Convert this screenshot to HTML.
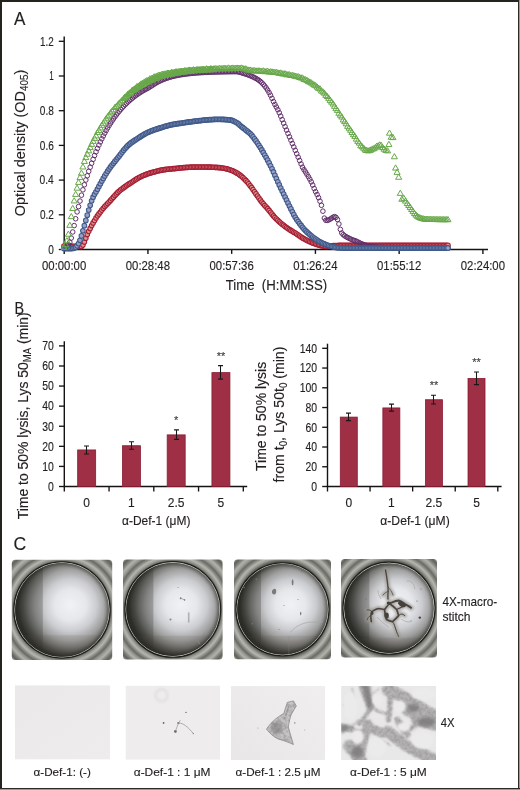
<!DOCTYPE html><html><head><meta charset="utf-8"><style>html,body{margin:0;padding:0;background:#fff}svg{display:block;will-change:transform}text{stroke:#231f20;stroke-width:0.14px}</style></head><body>
<svg width="520" height="790" viewBox="0 0 520 790" font-family="'Liberation Sans', sans-serif" fill="#231f20">
<rect x="0" y="0" width="520" height="790" fill="#fff"/>
<text x="14.0" y="24.8" font-size="17.5" text-anchor="start" textLength="11.4" lengthAdjust="spacingAndGlyphs" >A</text>
<g stroke="#151313" stroke-width="1.3" fill="none">
<path d="M64.2 36.5V249.5" stroke-width="1.45"/><path d="M63.5 249.5H488"/>
<path d="M58.8 249.50H64.2"/>
<path d="M58.8 214.80H64.2"/>
<path d="M58.8 180.10H64.2"/>
<path d="M58.8 145.40H64.2"/>
<path d="M58.8 110.70H64.2"/>
<path d="M58.8 76.00H64.2"/>
<path d="M58.8 41.30H64.2"/>
<path d="M64.20 249.5V253.9" stroke-width="1.4"/>
<path d="M147.94 249.5V253.9" stroke-width="1.4"/>
<path d="M231.68 249.5V253.9" stroke-width="1.4"/>
<path d="M315.42 249.5V253.9" stroke-width="1.4"/>
<path d="M399.16 249.5V253.9" stroke-width="1.4"/>
<path d="M482.90 249.5V253.9" stroke-width="1.4"/>
</g>
<text x="53.8" y="253.80" font-size="12" text-anchor="end" textLength="5.6" lengthAdjust="spacingAndGlyphs" >0</text>
<text x="53.8" y="219.10" font-size="12" text-anchor="end" textLength="13.9" lengthAdjust="spacingAndGlyphs" >0.2</text>
<text x="53.8" y="184.40" font-size="12" text-anchor="end" textLength="14.2" lengthAdjust="spacingAndGlyphs" >0.4</text>
<text x="53.8" y="149.70" font-size="12" text-anchor="end" textLength="14.0" lengthAdjust="spacingAndGlyphs" >0.6</text>
<text x="53.8" y="115.00" font-size="12" text-anchor="end" textLength="14.0" lengthAdjust="spacingAndGlyphs" >0.8</text>
<text x="53.8" y="80.30" font-size="12" text-anchor="end" textLength="4.5" lengthAdjust="spacingAndGlyphs" >1</text>
<text x="53.8" y="45.60" font-size="12" text-anchor="end" textLength="13.7" lengthAdjust="spacingAndGlyphs" >1.2</text>
<text x="64.10" y="269.9" font-size="12" text-anchor="middle" textLength="44.2" lengthAdjust="spacingAndGlyphs" >00:00:00</text>
<text x="147.86" y="269.9" font-size="12" text-anchor="middle" textLength="44.2" lengthAdjust="spacingAndGlyphs" >00:28:48</text>
<text x="231.62" y="269.9" font-size="12" text-anchor="middle" textLength="44.2" lengthAdjust="spacingAndGlyphs" >00:57:36</text>
<text x="315.38" y="269.9" font-size="12" text-anchor="middle" textLength="44.2" lengthAdjust="spacingAndGlyphs" >01:26:24</text>
<text x="399.14" y="269.9" font-size="12" text-anchor="middle" textLength="44.2" lengthAdjust="spacingAndGlyphs" >01:55:12</text>
<text x="482.90" y="269.9" font-size="12" text-anchor="middle" textLength="44.2" lengthAdjust="spacingAndGlyphs" >02:24:00</text>
<text x="276.4" y="290.2" font-size="14.2" text-anchor="middle" textLength="101.5" lengthAdjust="spacingAndGlyphs" xml:space="preserve">Time  (H:MM:SS)</text>
<text transform="translate(24.6 143.0) rotate(-90)" font-size="14.6" text-anchor="middle" textLength="146.5" lengthAdjust="spacingAndGlyphs">Optical density (OD<tspan font-size="10" dy="3">405</tspan><tspan dy="-3">)</tspan></text>
<g fill="#d9998c" stroke="#a61d35" stroke-width="1.05"><circle cx="64.00" cy="246.00" r="2.3"/><circle cx="65.45" cy="246.05" r="2.3"/><circle cx="66.91" cy="246.10" r="2.3"/><circle cx="68.36" cy="246.15" r="2.3"/><circle cx="69.82" cy="246.19" r="2.3"/><circle cx="71.27" cy="246.24" r="2.3"/><circle cx="72.73" cy="246.28" r="2.3"/><circle cx="74.18" cy="246.32" r="2.3"/><circle cx="75.64" cy="246.36" r="2.3"/><circle cx="77.09" cy="246.43" r="2.3"/><circle cx="78.55" cy="246.54" r="2.3"/><circle cx="80.00" cy="246.60" r="2.3"/><circle cx="81.45" cy="246.38" r="2.3"/><circle cx="82.91" cy="244.97" r="2.3"/><circle cx="84.36" cy="241.95" r="2.3"/><circle cx="85.82" cy="238.14" r="2.3"/><circle cx="87.27" cy="234.57" r="2.3"/><circle cx="88.73" cy="231.37" r="2.3"/><circle cx="90.18" cy="228.41" r="2.3"/><circle cx="91.64" cy="225.58" r="2.3"/><circle cx="93.09" cy="222.91" r="2.3"/><circle cx="94.54" cy="220.46" r="2.3"/><circle cx="96.00" cy="218.04" r="2.3"/><circle cx="97.45" cy="215.86" r="2.3"/><circle cx="98.91" cy="213.89" r="2.3"/><circle cx="100.36" cy="211.98" r="2.3"/><circle cx="101.82" cy="210.11" r="2.3"/><circle cx="103.27" cy="208.27" r="2.3"/><circle cx="104.73" cy="206.58" r="2.3"/><circle cx="106.18" cy="204.99" r="2.3"/><circle cx="107.64" cy="203.49" r="2.3"/><circle cx="109.09" cy="201.98" r="2.3"/><circle cx="110.54" cy="200.44" r="2.3"/><circle cx="112.00" cy="198.81" r="2.3"/><circle cx="113.45" cy="197.19" r="2.3"/><circle cx="114.91" cy="195.55" r="2.3"/><circle cx="116.36" cy="193.94" r="2.3"/><circle cx="117.82" cy="192.42" r="2.3"/><circle cx="119.27" cy="191.06" r="2.3"/><circle cx="120.73" cy="189.85" r="2.3"/><circle cx="122.18" cy="188.74" r="2.3"/><circle cx="123.64" cy="187.68" r="2.3"/><circle cx="125.09" cy="186.64" r="2.3"/><circle cx="126.54" cy="185.61" r="2.3"/><circle cx="128.00" cy="184.62" r="2.3"/><circle cx="129.45" cy="183.66" r="2.3"/><circle cx="130.91" cy="182.71" r="2.3"/><circle cx="132.36" cy="181.74" r="2.3"/><circle cx="133.82" cy="180.78" r="2.3"/><circle cx="135.27" cy="179.82" r="2.3"/><circle cx="136.73" cy="178.90" r="2.3"/><circle cx="138.18" cy="178.03" r="2.3"/><circle cx="139.63" cy="177.22" r="2.3"/><circle cx="141.09" cy="176.49" r="2.3"/><circle cx="142.54" cy="175.84" r="2.3"/><circle cx="144.00" cy="175.23" r="2.3"/><circle cx="145.45" cy="174.66" r="2.3"/><circle cx="146.91" cy="174.12" r="2.3"/><circle cx="148.36" cy="173.62" r="2.3"/><circle cx="149.82" cy="173.14" r="2.3"/><circle cx="151.27" cy="172.69" r="2.3"/><circle cx="152.73" cy="172.28" r="2.3"/><circle cx="154.18" cy="171.88" r="2.3"/><circle cx="155.63" cy="171.49" r="2.3"/><circle cx="157.09" cy="171.12" r="2.3"/><circle cx="158.54" cy="170.77" r="2.3"/><circle cx="160.00" cy="170.44" r="2.3"/><circle cx="161.45" cy="170.14" r="2.3"/><circle cx="162.91" cy="169.87" r="2.3"/><circle cx="164.36" cy="169.63" r="2.3"/><circle cx="165.82" cy="169.44" r="2.3"/><circle cx="167.27" cy="169.26" r="2.3"/><circle cx="168.72" cy="169.10" r="2.3"/><circle cx="170.18" cy="168.96" r="2.3"/><circle cx="171.63" cy="168.82" r="2.3"/><circle cx="173.09" cy="168.69" r="2.3"/><circle cx="174.54" cy="168.56" r="2.3"/><circle cx="176.00" cy="168.42" r="2.3"/><circle cx="177.45" cy="168.27" r="2.3"/><circle cx="178.91" cy="168.11" r="2.3"/><circle cx="180.36" cy="167.94" r="2.3"/><circle cx="181.82" cy="167.78" r="2.3"/><circle cx="183.27" cy="167.63" r="2.3"/><circle cx="184.72" cy="167.49" r="2.3"/><circle cx="186.18" cy="167.38" r="2.3"/><circle cx="187.63" cy="167.30" r="2.3"/><circle cx="189.09" cy="167.25" r="2.3"/><circle cx="190.54" cy="167.19" r="2.3"/><circle cx="192.00" cy="167.14" r="2.3"/><circle cx="193.45" cy="167.10" r="2.3"/><circle cx="194.91" cy="167.06" r="2.3"/><circle cx="196.36" cy="167.03" r="2.3"/><circle cx="197.82" cy="167.01" r="2.3"/><circle cx="199.27" cy="167.00" r="2.3"/><circle cx="200.72" cy="167.00" r="2.3"/><circle cx="202.18" cy="167.01" r="2.3"/><circle cx="203.63" cy="167.02" r="2.3"/><circle cx="205.09" cy="167.04" r="2.3"/><circle cx="206.54" cy="167.07" r="2.3"/><circle cx="208.00" cy="167.10" r="2.3"/><circle cx="209.45" cy="167.13" r="2.3"/><circle cx="210.91" cy="167.17" r="2.3"/><circle cx="212.36" cy="167.21" r="2.3"/><circle cx="213.81" cy="167.26" r="2.3"/><circle cx="215.27" cy="167.33" r="2.3"/><circle cx="216.72" cy="167.42" r="2.3"/><circle cx="218.18" cy="167.53" r="2.3"/><circle cx="219.63" cy="167.65" r="2.3"/><circle cx="221.09" cy="167.79" r="2.3"/><circle cx="222.54" cy="167.97" r="2.3"/><circle cx="224.00" cy="168.22" r="2.3"/><circle cx="225.45" cy="168.53" r="2.3"/><circle cx="226.91" cy="168.88" r="2.3"/><circle cx="228.36" cy="169.28" r="2.3"/><circle cx="229.81" cy="169.71" r="2.3"/><circle cx="231.27" cy="170.25" r="2.3"/><circle cx="232.72" cy="170.86" r="2.3"/><circle cx="234.18" cy="171.56" r="2.3"/><circle cx="235.63" cy="172.32" r="2.3"/><circle cx="237.09" cy="173.14" r="2.3"/><circle cx="238.54" cy="174.09" r="2.3"/><circle cx="240.00" cy="175.16" r="2.3"/><circle cx="241.45" cy="176.34" r="2.3"/><circle cx="242.91" cy="177.61" r="2.3"/><circle cx="244.36" cy="178.95" r="2.3"/><circle cx="245.81" cy="180.44" r="2.3"/><circle cx="247.27" cy="182.09" r="2.3"/><circle cx="248.72" cy="183.86" r="2.3"/><circle cx="250.18" cy="185.70" r="2.3"/><circle cx="251.63" cy="187.60" r="2.3"/><circle cx="253.09" cy="189.64" r="2.3"/><circle cx="254.54" cy="191.77" r="2.3"/><circle cx="256.00" cy="193.88" r="2.3"/><circle cx="257.45" cy="195.96" r="2.3"/><circle cx="258.90" cy="198.06" r="2.3"/><circle cx="260.36" cy="200.13" r="2.3"/><circle cx="261.81" cy="202.08" r="2.3"/><circle cx="263.27" cy="203.86" r="2.3"/><circle cx="264.72" cy="205.48" r="2.3"/><circle cx="266.18" cy="207.05" r="2.3"/><circle cx="267.63" cy="208.66" r="2.3"/><circle cx="269.09" cy="210.41" r="2.3"/><circle cx="270.54" cy="212.28" r="2.3"/><circle cx="272.00" cy="214.15" r="2.3"/><circle cx="273.45" cy="215.91" r="2.3"/><circle cx="274.90" cy="217.49" r="2.3"/><circle cx="276.36" cy="218.97" r="2.3"/><circle cx="277.81" cy="220.37" r="2.3"/><circle cx="279.27" cy="221.70" r="2.3"/><circle cx="280.72" cy="222.98" r="2.3"/><circle cx="282.18" cy="224.20" r="2.3"/><circle cx="283.63" cy="225.36" r="2.3"/><circle cx="285.09" cy="226.47" r="2.3"/><circle cx="286.54" cy="227.52" r="2.3"/><circle cx="288.00" cy="228.51" r="2.3"/><circle cx="289.45" cy="229.47" r="2.3"/><circle cx="290.90" cy="230.41" r="2.3"/><circle cx="292.36" cy="231.33" r="2.3"/><circle cx="293.81" cy="232.23" r="2.3"/><circle cx="295.27" cy="233.12" r="2.3"/><circle cx="296.72" cy="234.02" r="2.3"/><circle cx="298.18" cy="234.98" r="2.3"/><circle cx="299.63" cy="235.99" r="2.3"/><circle cx="301.09" cy="236.99" r="2.3"/><circle cx="302.54" cy="237.93" r="2.3"/><circle cx="303.99" cy="238.77" r="2.3"/><circle cx="305.45" cy="239.57" r="2.3"/><circle cx="306.90" cy="240.32" r="2.3"/><circle cx="308.36" cy="241.02" r="2.3"/><circle cx="309.81" cy="241.67" r="2.3"/><circle cx="311.27" cy="242.30" r="2.3"/><circle cx="312.72" cy="242.92" r="2.3"/><circle cx="314.18" cy="243.51" r="2.3"/><circle cx="315.63" cy="244.05" r="2.3"/><circle cx="317.09" cy="244.53" r="2.3"/><circle cx="318.54" cy="244.94" r="2.3"/><circle cx="319.99" cy="245.30" r="2.3"/><circle cx="321.45" cy="245.66" r="2.3"/><circle cx="322.90" cy="245.99" r="2.3"/><circle cx="324.36" cy="246.24" r="2.3"/><circle cx="325.81" cy="246.38" r="2.3"/><circle cx="327.27" cy="246.38" r="2.3"/><circle cx="328.72" cy="246.24" r="2.3"/><circle cx="330.18" cy="246.04" r="2.3"/><circle cx="331.63" cy="245.83" r="2.3"/><circle cx="333.09" cy="245.69" r="2.3"/><circle cx="334.54" cy="245.61" r="2.3"/><circle cx="335.99" cy="245.52" r="2.3"/><circle cx="337.45" cy="245.45" r="2.3"/><circle cx="338.90" cy="245.41" r="2.3"/><circle cx="340.36" cy="245.40" r="2.3"/><circle cx="341.81" cy="245.40" r="2.3"/><circle cx="343.27" cy="245.40" r="2.3"/><circle cx="344.72" cy="245.40" r="2.3"/><circle cx="346.18" cy="245.40" r="2.3"/><circle cx="347.63" cy="245.40" r="2.3"/><circle cx="349.08" cy="245.40" r="2.3"/><circle cx="350.54" cy="245.40" r="2.3"/><circle cx="351.99" cy="245.40" r="2.3"/><circle cx="353.45" cy="245.40" r="2.3"/><circle cx="354.90" cy="245.40" r="2.3"/><circle cx="356.36" cy="245.40" r="2.3"/><circle cx="357.81" cy="245.40" r="2.3"/><circle cx="359.27" cy="245.40" r="2.3"/><circle cx="360.72" cy="245.40" r="2.3"/><circle cx="362.18" cy="245.40" r="2.3"/><circle cx="363.63" cy="245.40" r="2.3"/><circle cx="365.08" cy="245.40" r="2.3"/><circle cx="366.54" cy="245.40" r="2.3"/><circle cx="367.99" cy="245.40" r="2.3"/><circle cx="369.45" cy="245.40" r="2.3"/><circle cx="370.90" cy="245.40" r="2.3"/><circle cx="372.36" cy="245.40" r="2.3"/><circle cx="373.81" cy="245.40" r="2.3"/><circle cx="375.27" cy="245.40" r="2.3"/><circle cx="376.72" cy="245.40" r="2.3"/><circle cx="378.18" cy="245.40" r="2.3"/><circle cx="379.63" cy="245.40" r="2.3"/><circle cx="381.08" cy="245.40" r="2.3"/><circle cx="382.54" cy="245.40" r="2.3"/><circle cx="383.99" cy="245.40" r="2.3"/><circle cx="385.45" cy="245.40" r="2.3"/><circle cx="386.90" cy="245.40" r="2.3"/><circle cx="388.36" cy="245.40" r="2.3"/><circle cx="389.81" cy="245.40" r="2.3"/><circle cx="391.27" cy="245.40" r="2.3"/><circle cx="392.72" cy="245.40" r="2.3"/><circle cx="394.17" cy="245.40" r="2.3"/><circle cx="395.63" cy="245.40" r="2.3"/><circle cx="397.08" cy="245.40" r="2.3"/><circle cx="398.54" cy="245.40" r="2.3"/><circle cx="399.99" cy="245.40" r="2.3"/><circle cx="401.45" cy="245.40" r="2.3"/><circle cx="402.90" cy="245.40" r="2.3"/><circle cx="404.36" cy="245.40" r="2.3"/><circle cx="405.81" cy="245.40" r="2.3"/><circle cx="407.27" cy="245.40" r="2.3"/><circle cx="408.72" cy="245.40" r="2.3"/><circle cx="410.17" cy="245.40" r="2.3"/><circle cx="411.63" cy="245.40" r="2.3"/><circle cx="413.08" cy="245.40" r="2.3"/><circle cx="414.54" cy="245.40" r="2.3"/><circle cx="415.99" cy="245.40" r="2.3"/><circle cx="417.45" cy="245.40" r="2.3"/><circle cx="418.90" cy="245.40" r="2.3"/><circle cx="420.36" cy="245.40" r="2.3"/><circle cx="421.81" cy="245.40" r="2.3"/><circle cx="423.26" cy="245.40" r="2.3"/><circle cx="424.72" cy="245.40" r="2.3"/><circle cx="426.17" cy="245.40" r="2.3"/><circle cx="427.63" cy="245.40" r="2.3"/><circle cx="429.08" cy="245.40" r="2.3"/><circle cx="430.54" cy="245.40" r="2.3"/><circle cx="431.99" cy="245.40" r="2.3"/><circle cx="433.45" cy="245.40" r="2.3"/><circle cx="434.90" cy="245.40" r="2.3"/><circle cx="436.36" cy="245.40" r="2.3"/><circle cx="437.81" cy="245.40" r="2.3"/><circle cx="439.26" cy="245.40" r="2.3"/><circle cx="440.72" cy="245.40" r="2.3"/><circle cx="442.17" cy="245.40" r="2.3"/><circle cx="443.63" cy="245.40" r="2.3"/><circle cx="445.08" cy="245.40" r="2.3"/><circle cx="446.54" cy="245.40" r="2.3"/><circle cx="447.99" cy="245.40" r="2.3"/></g>
<g fill="none" stroke="#62306a" stroke-width="1.0"><circle cx="64.00" cy="248.20" r="2.3"/><circle cx="65.45" cy="247.54" r="2.3"/><circle cx="66.91" cy="246.48" r="2.3"/><circle cx="68.36" cy="244.83" r="2.3"/><circle cx="69.82" cy="242.24" r="2.3"/><circle cx="71.27" cy="238.00" r="2.3"/><circle cx="72.73" cy="231.96" r="2.3"/><circle cx="74.18" cy="225.58" r="2.3"/><circle cx="75.64" cy="218.77" r="2.3"/><circle cx="77.09" cy="211.88" r="2.3"/><circle cx="78.55" cy="206.61" r="2.3"/><circle cx="80.00" cy="201.03" r="2.3"/><circle cx="81.45" cy="195.18" r="2.3"/><circle cx="82.91" cy="189.82" r="2.3"/><circle cx="84.36" cy="184.76" r="2.3"/><circle cx="85.82" cy="180.03" r="2.3"/><circle cx="87.27" cy="175.78" r="2.3"/><circle cx="88.73" cy="171.34" r="2.3"/><circle cx="90.18" cy="167.20" r="2.3"/><circle cx="91.64" cy="163.22" r="2.3"/><circle cx="93.09" cy="159.32" r="2.3"/><circle cx="94.54" cy="155.51" r="2.3"/><circle cx="96.00" cy="151.87" r="2.3"/><circle cx="97.45" cy="148.40" r="2.3"/><circle cx="98.91" cy="145.08" r="2.3"/><circle cx="100.36" cy="141.90" r="2.3"/><circle cx="101.82" cy="138.86" r="2.3"/><circle cx="103.27" cy="135.95" r="2.3"/><circle cx="104.73" cy="133.17" r="2.3"/><circle cx="106.18" cy="130.51" r="2.3"/><circle cx="107.64" cy="127.96" r="2.3"/><circle cx="109.09" cy="125.52" r="2.3"/><circle cx="110.54" cy="123.18" r="2.3"/><circle cx="112.00" cy="120.95" r="2.3"/><circle cx="113.45" cy="118.82" r="2.3"/><circle cx="114.91" cy="116.77" r="2.3"/><circle cx="116.36" cy="114.82" r="2.3"/><circle cx="117.82" cy="112.94" r="2.3"/><circle cx="119.27" cy="111.15" r="2.3"/><circle cx="120.73" cy="109.44" r="2.3"/><circle cx="122.18" cy="107.80" r="2.3"/><circle cx="123.64" cy="106.23" r="2.3"/><circle cx="125.09" cy="104.73" r="2.3"/><circle cx="126.54" cy="103.29" r="2.3"/><circle cx="128.00" cy="101.91" r="2.3"/><circle cx="129.45" cy="100.60" r="2.3"/><circle cx="130.91" cy="99.34" r="2.3"/><circle cx="132.36" cy="98.14" r="2.3"/><circle cx="133.82" cy="96.98" r="2.3"/><circle cx="135.27" cy="95.88" r="2.3"/><circle cx="136.73" cy="94.82" r="2.3"/><circle cx="138.18" cy="93.81" r="2.3"/><circle cx="139.63" cy="92.85" r="2.3"/><circle cx="141.09" cy="91.92" r="2.3"/><circle cx="142.54" cy="91.04" r="2.3"/><circle cx="144.00" cy="90.19" r="2.3"/><circle cx="145.45" cy="89.40" r="2.3"/><circle cx="146.91" cy="88.65" r="2.3"/><circle cx="148.36" cy="87.83" r="2.3"/><circle cx="149.82" cy="86.95" r="2.3"/><circle cx="151.27" cy="86.04" r="2.3"/><circle cx="152.73" cy="85.11" r="2.3"/><circle cx="154.18" cy="84.15" r="2.3"/><circle cx="155.63" cy="83.22" r="2.3"/><circle cx="157.09" cy="82.39" r="2.3"/><circle cx="158.54" cy="81.62" r="2.3"/><circle cx="160.00" cy="80.90" r="2.3"/><circle cx="161.45" cy="80.24" r="2.3"/><circle cx="162.91" cy="79.62" r="2.3"/><circle cx="164.36" cy="79.04" r="2.3"/><circle cx="165.82" cy="78.50" r="2.3"/><circle cx="167.27" cy="78.01" r="2.3"/><circle cx="168.72" cy="77.54" r="2.3"/><circle cx="170.18" cy="77.11" r="2.3"/><circle cx="171.63" cy="76.71" r="2.3"/><circle cx="173.09" cy="76.34" r="2.3"/><circle cx="174.54" cy="75.99" r="2.3"/><circle cx="176.00" cy="75.67" r="2.3"/><circle cx="177.45" cy="75.37" r="2.3"/><circle cx="178.91" cy="75.09" r="2.3"/><circle cx="180.36" cy="74.83" r="2.3"/><circle cx="181.82" cy="74.59" r="2.3"/><circle cx="183.27" cy="74.37" r="2.3"/><circle cx="184.72" cy="74.16" r="2.3"/><circle cx="186.18" cy="73.97" r="2.3"/><circle cx="187.63" cy="73.79" r="2.3"/><circle cx="189.09" cy="73.62" r="2.3"/><circle cx="190.54" cy="73.46" r="2.3"/><circle cx="192.00" cy="73.32" r="2.3"/><circle cx="193.45" cy="73.18" r="2.3"/><circle cx="194.91" cy="73.06" r="2.3"/><circle cx="196.36" cy="72.94" r="2.3"/><circle cx="197.82" cy="72.83" r="2.3"/><circle cx="199.27" cy="72.73" r="2.3"/><circle cx="200.72" cy="72.64" r="2.3"/><circle cx="202.18" cy="72.55" r="2.3"/><circle cx="203.63" cy="72.47" r="2.3"/><circle cx="205.09" cy="72.40" r="2.3"/><circle cx="206.54" cy="72.33" r="2.3"/><circle cx="208.00" cy="72.26" r="2.3"/><circle cx="209.45" cy="72.20" r="2.3"/><circle cx="210.91" cy="72.15" r="2.3"/><circle cx="212.36" cy="72.09" r="2.3"/><circle cx="213.81" cy="72.04" r="2.3"/><circle cx="215.27" cy="72.00" r="2.3"/><circle cx="216.72" cy="71.96" r="2.3"/><circle cx="218.18" cy="71.92" r="2.3"/><circle cx="219.63" cy="71.88" r="2.3"/><circle cx="221.09" cy="71.85" r="2.3"/><circle cx="222.54" cy="71.82" r="2.3"/><circle cx="224.00" cy="71.79" r="2.3"/><circle cx="225.45" cy="71.76" r="2.3"/><circle cx="226.91" cy="71.73" r="2.3"/><circle cx="228.36" cy="71.71" r="2.3"/><circle cx="229.81" cy="71.69" r="2.3"/><circle cx="231.27" cy="71.67" r="2.3"/><circle cx="232.72" cy="71.65" r="2.3"/><circle cx="234.18" cy="71.63" r="2.3"/><circle cx="235.63" cy="71.61" r="2.3"/><circle cx="237.09" cy="71.67" r="2.3"/><circle cx="238.54" cy="71.90" r="2.3"/><circle cx="240.00" cy="72.26" r="2.3"/><circle cx="241.45" cy="72.70" r="2.3"/><circle cx="242.91" cy="73.17" r="2.3"/><circle cx="244.36" cy="73.61" r="2.3"/><circle cx="245.81" cy="74.06" r="2.3"/><circle cx="247.27" cy="74.56" r="2.3"/><circle cx="248.72" cy="75.09" r="2.3"/><circle cx="250.18" cy="75.67" r="2.3"/><circle cx="251.63" cy="76.29" r="2.3"/><circle cx="253.09" cy="76.96" r="2.3"/><circle cx="254.54" cy="77.67" r="2.3"/><circle cx="256.00" cy="78.45" r="2.3"/><circle cx="257.45" cy="79.33" r="2.3"/><circle cx="258.90" cy="80.32" r="2.3"/><circle cx="260.36" cy="81.43" r="2.3"/><circle cx="261.81" cy="82.75" r="2.3"/><circle cx="263.27" cy="84.30" r="2.3"/><circle cx="264.72" cy="86.05" r="2.3"/><circle cx="266.18" cy="87.94" r="2.3"/><circle cx="267.63" cy="90.11" r="2.3"/><circle cx="269.09" cy="92.57" r="2.3"/><circle cx="270.54" cy="95.25" r="2.3"/><circle cx="272.00" cy="98.35" r="2.3"/><circle cx="273.45" cy="101.56" r="2.3"/><circle cx="274.90" cy="104.44" r="2.3"/><circle cx="276.36" cy="107.06" r="2.3"/><circle cx="277.81" cy="109.73" r="2.3"/><circle cx="279.27" cy="112.73" r="2.3"/><circle cx="280.72" cy="116.12" r="2.3"/><circle cx="282.18" cy="119.67" r="2.3"/><circle cx="283.63" cy="123.17" r="2.3"/><circle cx="285.09" cy="126.65" r="2.3"/><circle cx="286.54" cy="130.10" r="2.3"/><circle cx="288.00" cy="133.48" r="2.3"/><circle cx="289.45" cy="136.83" r="2.3"/><circle cx="290.90" cy="140.19" r="2.3"/><circle cx="292.36" cy="143.55" r="2.3"/><circle cx="293.81" cy="146.93" r="2.3"/><circle cx="295.27" cy="150.36" r="2.3"/><circle cx="296.72" cy="153.78" r="2.3"/><circle cx="298.18" cy="157.16" r="2.3"/><circle cx="299.63" cy="160.51" r="2.3"/><circle cx="301.09" cy="163.98" r="2.3"/><circle cx="302.54" cy="167.26" r="2.3"/><circle cx="303.99" cy="169.74" r="2.3"/><circle cx="305.45" cy="171.93" r="2.3"/><circle cx="306.90" cy="174.21" r="2.3"/><circle cx="308.36" cy="176.63" r="2.3"/><circle cx="309.81" cy="179.13" r="2.3"/><circle cx="311.27" cy="181.84" r="2.3"/><circle cx="312.72" cy="185.02" r="2.3"/><circle cx="314.18" cy="188.53" r="2.3"/><circle cx="315.63" cy="191.70" r="2.3"/><circle cx="317.09" cy="194.52" r="2.3"/><circle cx="318.54" cy="197.64" r="2.3"/><circle cx="319.99" cy="201.19" r="2.3"/><circle cx="321.45" cy="205.29" r="2.3"/><circle cx="322.90" cy="211.17" r="2.3"/><circle cx="324.36" cy="218.12" r="2.3"/><circle cx="325.81" cy="220.31" r="2.3"/><circle cx="327.27" cy="220.38" r="2.3"/><circle cx="328.72" cy="219.93" r="2.3"/><circle cx="330.18" cy="219.14" r="2.3"/><circle cx="331.63" cy="218.18" r="2.3"/><circle cx="333.09" cy="217.25" r="2.3"/><circle cx="334.54" cy="216.62" r="2.3"/><circle cx="335.99" cy="217.32" r="2.3"/><circle cx="337.45" cy="219.45" r="2.3"/><circle cx="338.90" cy="223.98" r="2.3"/><circle cx="340.36" cy="229.37" r="2.3"/><circle cx="341.81" cy="233.01" r="2.3"/><circle cx="343.27" cy="234.72" r="2.3"/><circle cx="344.72" cy="235.85" r="2.3"/><circle cx="346.18" cy="236.77" r="2.3"/><circle cx="347.63" cy="237.53" r="2.3"/><circle cx="349.08" cy="238.25" r="2.3"/><circle cx="350.54" cy="238.99" r="2.3"/><circle cx="351.99" cy="239.67" r="2.3"/><circle cx="353.45" cy="240.21" r="2.3"/><circle cx="354.90" cy="240.67" r="2.3"/><circle cx="356.36" cy="241.24" r="2.3"/><circle cx="357.81" cy="241.96" r="2.3"/><circle cx="359.27" cy="242.69" r="2.3"/><circle cx="360.72" cy="243.44" r="2.3"/><circle cx="362.18" cy="244.07" r="2.3"/><circle cx="363.63" cy="244.59" r="2.3"/><circle cx="365.08" cy="245.09" r="2.3"/><circle cx="366.54" cy="245.53" r="2.3"/><circle cx="367.99" cy="245.91" r="2.3"/><circle cx="369.45" cy="246.21" r="2.3"/><circle cx="370.90" cy="246.43" r="2.3"/><circle cx="372.36" cy="246.63" r="2.3"/><circle cx="373.81" cy="246.81" r="2.3"/><circle cx="375.27" cy="246.96" r="2.3"/><circle cx="376.72" cy="247.09" r="2.3"/><circle cx="378.18" cy="247.20" r="2.3"/><circle cx="379.63" cy="247.28" r="2.3"/><circle cx="381.08" cy="247.35" r="2.3"/><circle cx="382.54" cy="247.40" r="2.3"/><circle cx="383.99" cy="247.46" r="2.3"/><circle cx="385.45" cy="247.51" r="2.3"/><circle cx="386.90" cy="247.55" r="2.3"/><circle cx="388.36" cy="247.59" r="2.3"/><circle cx="389.81" cy="247.63" r="2.3"/><circle cx="391.27" cy="247.67" r="2.3"/><circle cx="392.72" cy="247.70" r="2.3"/><circle cx="394.17" cy="247.73" r="2.3"/><circle cx="395.63" cy="247.75" r="2.3"/><circle cx="397.08" cy="247.77" r="2.3"/><circle cx="398.54" cy="247.79" r="2.3"/><circle cx="399.99" cy="247.80" r="2.3"/><circle cx="401.45" cy="247.81" r="2.3"/><circle cx="402.90" cy="247.82" r="2.3"/><circle cx="404.36" cy="247.83" r="2.3"/><circle cx="405.81" cy="247.84" r="2.3"/><circle cx="407.27" cy="247.85" r="2.3"/><circle cx="408.72" cy="247.86" r="2.3"/><circle cx="410.17" cy="247.87" r="2.3"/><circle cx="411.63" cy="247.88" r="2.3"/><circle cx="413.08" cy="247.89" r="2.3"/><circle cx="414.54" cy="247.90" r="2.3"/><circle cx="415.99" cy="247.91" r="2.3"/><circle cx="417.45" cy="247.91" r="2.3"/><circle cx="418.90" cy="247.92" r="2.3"/><circle cx="420.36" cy="247.93" r="2.3"/><circle cx="421.81" cy="247.94" r="2.3"/><circle cx="423.26" cy="247.94" r="2.3"/><circle cx="424.72" cy="247.95" r="2.3"/><circle cx="426.17" cy="247.95" r="2.3"/><circle cx="427.63" cy="247.96" r="2.3"/><circle cx="429.08" cy="247.97" r="2.3"/><circle cx="430.54" cy="247.97" r="2.3"/><circle cx="431.99" cy="247.97" r="2.3"/><circle cx="433.45" cy="247.98" r="2.3"/><circle cx="434.90" cy="247.98" r="2.3"/><circle cx="436.36" cy="247.99" r="2.3"/><circle cx="437.81" cy="247.99" r="2.3"/><circle cx="439.26" cy="247.99" r="2.3"/><circle cx="440.72" cy="247.99" r="2.3"/><circle cx="442.17" cy="248.00" r="2.3"/><circle cx="443.63" cy="248.00" r="2.3"/><circle cx="445.08" cy="248.00" r="2.3"/><circle cx="446.54" cy="248.00" r="2.3"/><circle cx="447.99" cy="248.00" r="2.3"/></g>
<g fill="#9aa0c6" stroke="#3f5a8a" stroke-width="1.05"><circle cx="64.00" cy="248.50" r="2.35"/><circle cx="65.45" cy="248.56" r="2.35"/><circle cx="66.91" cy="248.59" r="2.35"/><circle cx="68.36" cy="248.60" r="2.35"/><circle cx="69.82" cy="248.59" r="2.35"/><circle cx="71.27" cy="248.55" r="2.35"/><circle cx="72.73" cy="248.49" r="2.35"/><circle cx="74.18" cy="248.10" r="2.35"/><circle cx="75.64" cy="247.33" r="2.35"/><circle cx="77.09" cy="245.85" r="2.35"/><circle cx="78.55" cy="243.58" r="2.35"/><circle cx="80.00" cy="240.36" r="2.35"/><circle cx="81.45" cy="235.91" r="2.35"/><circle cx="82.91" cy="230.78" r="2.35"/><circle cx="84.36" cy="225.65" r="2.35"/><circle cx="85.82" cy="220.42" r="2.35"/><circle cx="87.27" cy="215.13" r="2.35"/><circle cx="88.73" cy="210.10" r="2.35"/><circle cx="90.18" cy="205.37" r="2.35"/><circle cx="91.64" cy="200.84" r="2.35"/><circle cx="93.09" cy="197.24" r="2.35"/><circle cx="94.54" cy="194.36" r="2.35"/><circle cx="96.00" cy="191.81" r="2.35"/><circle cx="97.45" cy="189.21" r="2.35"/><circle cx="98.91" cy="186.44" r="2.35"/><circle cx="100.36" cy="183.68" r="2.35"/><circle cx="101.82" cy="181.02" r="2.35"/><circle cx="103.27" cy="178.44" r="2.35"/><circle cx="104.73" cy="175.95" r="2.35"/><circle cx="106.18" cy="173.56" r="2.35"/><circle cx="107.64" cy="171.24" r="2.35"/><circle cx="109.09" cy="169.04" r="2.35"/><circle cx="110.54" cy="166.99" r="2.35"/><circle cx="112.00" cy="165.09" r="2.35"/><circle cx="113.45" cy="163.25" r="2.35"/><circle cx="114.91" cy="161.42" r="2.35"/><circle cx="116.36" cy="159.57" r="2.35"/><circle cx="117.82" cy="157.75" r="2.35"/><circle cx="119.27" cy="155.92" r="2.35"/><circle cx="120.73" cy="154.06" r="2.35"/><circle cx="122.18" cy="152.12" r="2.35"/><circle cx="123.64" cy="150.23" r="2.35"/><circle cx="125.09" cy="148.50" r="2.35"/><circle cx="126.54" cy="146.94" r="2.35"/><circle cx="128.00" cy="145.48" r="2.35"/><circle cx="129.45" cy="144.16" r="2.35"/><circle cx="130.91" cy="142.98" r="2.35"/><circle cx="132.36" cy="141.92" r="2.35"/><circle cx="133.82" cy="140.93" r="2.35"/><circle cx="135.27" cy="139.99" r="2.35"/><circle cx="136.73" cy="139.05" r="2.35"/><circle cx="138.18" cy="138.10" r="2.35"/><circle cx="139.63" cy="137.15" r="2.35"/><circle cx="141.09" cy="136.21" r="2.35"/><circle cx="142.54" cy="135.29" r="2.35"/><circle cx="144.00" cy="134.41" r="2.35"/><circle cx="145.45" cy="133.58" r="2.35"/><circle cx="146.91" cy="132.82" r="2.35"/><circle cx="148.36" cy="132.14" r="2.35"/><circle cx="149.82" cy="131.52" r="2.35"/><circle cx="151.27" cy="130.94" r="2.35"/><circle cx="152.73" cy="130.39" r="2.35"/><circle cx="154.18" cy="129.87" r="2.35"/><circle cx="155.63" cy="129.38" r="2.35"/><circle cx="157.09" cy="128.90" r="2.35"/><circle cx="158.54" cy="128.44" r="2.35"/><circle cx="160.00" cy="127.97" r="2.35"/><circle cx="161.45" cy="127.51" r="2.35"/><circle cx="162.91" cy="127.05" r="2.35"/><circle cx="164.36" cy="126.60" r="2.35"/><circle cx="165.82" cy="126.17" r="2.35"/><circle cx="167.27" cy="125.76" r="2.35"/><circle cx="168.72" cy="125.37" r="2.35"/><circle cx="170.18" cy="125.02" r="2.35"/><circle cx="171.63" cy="124.71" r="2.35"/><circle cx="173.09" cy="124.43" r="2.35"/><circle cx="174.54" cy="124.16" r="2.35"/><circle cx="176.00" cy="123.92" r="2.35"/><circle cx="177.45" cy="123.69" r="2.35"/><circle cx="178.91" cy="123.47" r="2.35"/><circle cx="180.36" cy="123.25" r="2.35"/><circle cx="181.82" cy="123.03" r="2.35"/><circle cx="183.27" cy="122.81" r="2.35"/><circle cx="184.72" cy="122.60" r="2.35"/><circle cx="186.18" cy="122.39" r="2.35"/><circle cx="187.63" cy="122.18" r="2.35"/><circle cx="189.09" cy="121.97" r="2.35"/><circle cx="190.54" cy="121.77" r="2.35"/><circle cx="192.00" cy="121.58" r="2.35"/><circle cx="193.45" cy="121.39" r="2.35"/><circle cx="194.91" cy="121.21" r="2.35"/><circle cx="196.36" cy="121.03" r="2.35"/><circle cx="197.82" cy="120.86" r="2.35"/><circle cx="199.27" cy="120.68" r="2.35"/><circle cx="200.72" cy="120.51" r="2.35"/><circle cx="202.18" cy="120.35" r="2.35"/><circle cx="203.63" cy="120.21" r="2.35"/><circle cx="205.09" cy="120.07" r="2.35"/><circle cx="206.54" cy="119.96" r="2.35"/><circle cx="208.00" cy="119.84" r="2.35"/><circle cx="209.45" cy="119.73" r="2.35"/><circle cx="210.91" cy="119.61" r="2.35"/><circle cx="212.36" cy="119.51" r="2.35"/><circle cx="213.81" cy="119.42" r="2.35"/><circle cx="215.27" cy="119.36" r="2.35"/><circle cx="216.72" cy="119.31" r="2.35"/><circle cx="218.18" cy="119.30" r="2.35"/><circle cx="219.63" cy="119.31" r="2.35"/><circle cx="221.09" cy="119.35" r="2.35"/><circle cx="222.54" cy="119.40" r="2.35"/><circle cx="224.00" cy="119.47" r="2.35"/><circle cx="225.45" cy="119.56" r="2.35"/><circle cx="226.91" cy="119.66" r="2.35"/><circle cx="228.36" cy="119.78" r="2.35"/><circle cx="229.81" cy="119.92" r="2.35"/><circle cx="231.27" cy="120.22" r="2.35"/><circle cx="232.72" cy="120.70" r="2.35"/><circle cx="234.18" cy="121.33" r="2.35"/><circle cx="235.63" cy="122.05" r="2.35"/><circle cx="237.09" cy="122.85" r="2.35"/><circle cx="238.54" cy="123.97" r="2.35"/><circle cx="240.00" cy="125.26" r="2.35"/><circle cx="241.45" cy="126.50" r="2.35"/><circle cx="242.91" cy="127.68" r="2.35"/><circle cx="244.36" cy="128.86" r="2.35"/><circle cx="245.81" cy="130.05" r="2.35"/><circle cx="247.27" cy="131.19" r="2.35"/><circle cx="248.72" cy="132.32" r="2.35"/><circle cx="250.18" cy="133.58" r="2.35"/><circle cx="251.63" cy="135.13" r="2.35"/><circle cx="253.09" cy="136.93" r="2.35"/><circle cx="254.54" cy="138.88" r="2.35"/><circle cx="256.00" cy="140.89" r="2.35"/><circle cx="257.45" cy="143.03" r="2.35"/><circle cx="258.90" cy="145.27" r="2.35"/><circle cx="260.36" cy="147.58" r="2.35"/><circle cx="261.81" cy="149.99" r="2.35"/><circle cx="263.27" cy="152.49" r="2.35"/><circle cx="264.72" cy="155.02" r="2.35"/><circle cx="266.18" cy="157.54" r="2.35"/><circle cx="267.63" cy="160.13" r="2.35"/><circle cx="269.09" cy="162.90" r="2.35"/><circle cx="270.54" cy="165.82" r="2.35"/><circle cx="272.00" cy="168.86" r="2.35"/><circle cx="273.45" cy="171.98" r="2.35"/><circle cx="274.90" cy="175.25" r="2.35"/><circle cx="276.36" cy="178.57" r="2.35"/><circle cx="277.81" cy="181.78" r="2.35"/><circle cx="279.27" cy="184.92" r="2.35"/><circle cx="280.72" cy="188.02" r="2.35"/><circle cx="282.18" cy="191.08" r="2.35"/><circle cx="283.63" cy="194.11" r="2.35"/><circle cx="285.09" cy="197.11" r="2.35"/><circle cx="286.54" cy="200.08" r="2.35"/><circle cx="288.00" cy="203.06" r="2.35"/><circle cx="289.45" cy="206.01" r="2.35"/><circle cx="290.90" cy="208.92" r="2.35"/><circle cx="292.36" cy="211.80" r="2.35"/><circle cx="293.81" cy="214.65" r="2.35"/><circle cx="295.27" cy="217.25" r="2.35"/><circle cx="296.72" cy="219.51" r="2.35"/><circle cx="298.18" cy="221.58" r="2.35"/><circle cx="299.63" cy="223.54" r="2.35"/><circle cx="301.09" cy="225.48" r="2.35"/><circle cx="302.54" cy="227.34" r="2.35"/><circle cx="303.99" cy="229.06" r="2.35"/><circle cx="305.45" cy="230.58" r="2.35"/><circle cx="306.90" cy="231.96" r="2.35"/><circle cx="308.36" cy="233.26" r="2.35"/><circle cx="309.81" cy="234.54" r="2.35"/><circle cx="311.27" cy="235.80" r="2.35"/><circle cx="312.72" cy="237.01" r="2.35"/><circle cx="314.18" cy="238.13" r="2.35"/><circle cx="315.63" cy="239.18" r="2.35"/><circle cx="317.09" cy="240.16" r="2.35"/><circle cx="318.54" cy="241.05" r="2.35"/><circle cx="319.99" cy="241.85" r="2.35"/><circle cx="321.45" cy="242.57" r="2.35"/><circle cx="322.90" cy="243.25" r="2.35"/><circle cx="324.36" cy="243.89" r="2.35"/><circle cx="325.81" cy="244.50" r="2.35"/><circle cx="327.27" cy="245.06" r="2.35"/><circle cx="328.72" cy="245.57" r="2.35"/><circle cx="330.18" cy="246.05" r="2.35"/><circle cx="331.63" cy="246.49" r="2.35"/><circle cx="333.09" cy="246.85" r="2.35"/><circle cx="334.54" cy="247.16" r="2.35"/><circle cx="335.99" cy="247.44" r="2.35"/><circle cx="337.45" cy="247.65" r="2.35"/><circle cx="338.90" cy="247.75" r="2.35"/><circle cx="340.36" cy="247.83" r="2.35"/><circle cx="341.81" cy="247.90" r="2.35"/><circle cx="343.27" cy="247.96" r="2.35"/><circle cx="344.72" cy="248.01" r="2.35"/><circle cx="346.18" cy="248.05" r="2.35"/><circle cx="347.63" cy="248.08" r="2.35"/><circle cx="349.08" cy="248.10" r="2.35"/><circle cx="350.54" cy="248.10" r="2.35"/><circle cx="351.99" cy="248.10" r="2.35"/><circle cx="353.45" cy="248.10" r="2.35"/><circle cx="354.90" cy="248.10" r="2.35"/><circle cx="356.36" cy="248.10" r="2.35"/><circle cx="357.81" cy="248.10" r="2.35"/><circle cx="359.27" cy="248.10" r="2.35"/><circle cx="360.72" cy="248.10" r="2.35"/><circle cx="362.18" cy="248.10" r="2.35"/><circle cx="363.63" cy="248.10" r="2.35"/><circle cx="365.08" cy="248.10" r="2.35"/><circle cx="366.54" cy="248.10" r="2.35"/><circle cx="367.99" cy="248.10" r="2.35"/><circle cx="369.45" cy="248.10" r="2.35"/><circle cx="370.90" cy="248.10" r="2.35"/><circle cx="372.36" cy="248.10" r="2.35"/><circle cx="373.81" cy="248.10" r="2.35"/><circle cx="375.27" cy="248.10" r="2.35"/><circle cx="376.72" cy="248.10" r="2.35"/><circle cx="378.18" cy="248.10" r="2.35"/><circle cx="379.63" cy="248.10" r="2.35"/><circle cx="381.08" cy="248.10" r="2.35"/><circle cx="382.54" cy="248.10" r="2.35"/><circle cx="383.99" cy="248.10" r="2.35"/><circle cx="385.45" cy="248.10" r="2.35"/><circle cx="386.90" cy="248.10" r="2.35"/><circle cx="388.36" cy="248.10" r="2.35"/><circle cx="389.81" cy="248.10" r="2.35"/><circle cx="391.27" cy="248.10" r="2.35"/><circle cx="392.72" cy="248.10" r="2.35"/><circle cx="394.17" cy="248.10" r="2.35"/><circle cx="395.63" cy="248.10" r="2.35"/><circle cx="397.08" cy="248.10" r="2.35"/><circle cx="398.54" cy="248.10" r="2.35"/><circle cx="399.99" cy="248.10" r="2.35"/><circle cx="401.45" cy="248.10" r="2.35"/><circle cx="402.90" cy="248.10" r="2.35"/><circle cx="404.36" cy="248.10" r="2.35"/><circle cx="405.81" cy="248.10" r="2.35"/><circle cx="407.27" cy="248.10" r="2.35"/><circle cx="408.72" cy="248.10" r="2.35"/><circle cx="410.17" cy="248.10" r="2.35"/><circle cx="411.63" cy="248.10" r="2.35"/><circle cx="413.08" cy="248.10" r="2.35"/><circle cx="414.54" cy="248.10" r="2.35"/><circle cx="415.99" cy="248.10" r="2.35"/><circle cx="417.45" cy="248.10" r="2.35"/><circle cx="418.90" cy="248.10" r="2.35"/><circle cx="420.36" cy="248.10" r="2.35"/><circle cx="421.81" cy="248.10" r="2.35"/><circle cx="423.26" cy="248.10" r="2.35"/><circle cx="424.72" cy="248.10" r="2.35"/><circle cx="426.17" cy="248.10" r="2.35"/><circle cx="427.63" cy="248.10" r="2.35"/><circle cx="429.08" cy="248.10" r="2.35"/><circle cx="430.54" cy="248.10" r="2.35"/><circle cx="431.99" cy="248.10" r="2.35"/><circle cx="433.45" cy="248.10" r="2.35"/><circle cx="434.90" cy="248.10" r="2.35"/><circle cx="436.36" cy="248.10" r="2.35"/><circle cx="437.81" cy="248.10" r="2.35"/><circle cx="439.26" cy="248.10" r="2.35"/><circle cx="440.72" cy="248.10" r="2.35"/><circle cx="442.17" cy="248.10" r="2.35"/><circle cx="443.63" cy="248.10" r="2.35"/><circle cx="445.08" cy="248.10" r="2.35"/><circle cx="446.54" cy="248.10" r="2.35"/><circle cx="447.99" cy="248.10" r="2.35"/></g>
<g fill="none" stroke="#68a84a" stroke-width="1.0" stroke-linejoin="miter"><path d="M125.09 94.17L128.14 99.37L122.04 99.37Z"/><path d="M126.54 93.09L129.59 98.29L123.49 98.29Z"/><path d="M128.00 91.45L131.05 96.65L124.95 96.65Z"/><path d="M129.45 90.36L132.50 95.56L126.40 95.56Z"/><path d="M130.91 89.59L133.96 94.79L127.86 94.79Z"/><path d="M132.36 87.78L135.41 92.98L129.31 92.98Z"/><path d="M133.82 87.23L136.87 92.43L130.77 92.43Z"/><path d="M135.27 86.26L138.32 91.46L132.22 91.46Z"/><path d="M136.73 84.77L139.78 89.97L133.68 89.97Z"/><path d="M138.18 84.39L141.23 89.59L135.13 89.59Z"/><path d="M139.63 83.32L142.68 88.52L136.58 88.52Z"/><path d="M141.09 82.32L144.14 87.52L138.04 87.52Z"/><path d="M142.54 81.68L145.59 86.88L139.49 86.88Z"/><path d="M144.00 81.01L147.05 86.21L140.95 86.21Z"/><path d="M145.45 79.92L148.50 85.12L142.40 85.12Z"/><path d="M146.91 79.18L149.96 84.38L143.86 84.38Z"/><path d="M148.36 78.79L151.41 83.99L145.31 83.99Z"/><path d="M149.82 77.43L152.87 82.63L146.77 82.63Z"/><path d="M151.27 77.15L154.32 82.35L148.22 82.35Z"/><path d="M152.73 76.64L155.78 81.84L149.68 81.84Z"/><path d="M154.18 75.39L157.23 80.59L151.13 80.59Z"/><path d="M155.63 75.39L158.68 80.59L152.58 80.59Z"/><path d="M157.09 74.56L160.14 79.76L154.04 79.76Z"/><path d="M158.54 73.74L161.59 78.94L155.49 78.94Z"/><path d="M160.00 73.52L163.05 78.72L156.95 78.72Z"/><path d="M161.45 73.05L164.50 78.25L158.40 78.25Z"/><path d="M162.91 72.53L165.96 77.73L159.86 77.73Z"/><path d="M164.36 72.23L167.41 77.43L161.31 77.43Z"/><path d="M165.82 72.20L168.87 77.40L162.77 77.40Z"/><path d="M167.27 71.34L170.32 76.54L164.22 76.54Z"/><path d="M168.72 71.34L171.78 76.54L165.67 76.54Z"/><path d="M170.18 71.26L173.23 76.46L167.13 76.46Z"/><path d="M171.63 70.31L174.68 75.51L168.58 75.51Z"/><path d="M173.09 70.66L176.14 75.86L170.04 75.86Z"/><path d="M174.54 70.23L177.59 75.43L171.49 75.43Z"/><path d="M176.00 69.66L179.05 74.86L172.95 74.86Z"/><path d="M177.45 69.85L180.50 75.05L174.40 75.05Z"/><path d="M178.91 69.43L181.96 74.63L175.86 74.63Z"/><path d="M180.36 69.10L183.41 74.30L177.31 74.30Z"/><path d="M181.82 68.97L184.87 74.17L178.77 74.17Z"/><path d="M183.27 68.96L186.32 74.16L180.22 74.16Z"/><path d="M184.72 68.35L187.77 73.55L181.67 73.55Z"/><path d="M186.18 68.38L189.23 73.58L183.13 73.58Z"/><path d="M187.63 68.47L190.68 73.67L184.58 73.67Z"/><path d="M189.09 67.62L192.14 72.82L186.04 72.82Z"/><path d="M190.54 68.05L193.59 73.25L187.49 73.25Z"/><path d="M192.00 67.78L195.05 72.98L188.95 72.98Z"/><path d="M193.45 67.19L196.50 72.39L190.40 72.39Z"/><path d="M194.91 67.60L197.96 72.80L191.86 72.80Z"/><path d="M196.36 67.18L199.41 72.38L193.31 72.38Z"/><path d="M197.82 66.96L200.87 72.16L194.77 72.16Z"/><path d="M199.27 67.04L202.32 72.24L196.22 72.24Z"/><path d="M200.72 67.00L203.77 72.20L197.67 72.20Z"/><path d="M202.18 66.64L205.23 71.84L199.13 71.84Z"/><path d="M203.63 66.70L206.68 71.90L200.58 71.90Z"/><path d="M205.09 66.90L208.14 72.10L202.04 72.10Z"/><path d="M206.54 66.19L209.59 71.39L203.49 71.39Z"/><path d="M208.00 66.65L211.05 71.85L204.95 71.85Z"/><path d="M209.45 66.57L212.50 71.77L206.40 71.77Z"/><path d="M210.91 65.98L213.96 71.18L207.86 71.18Z"/><path d="M212.36 66.56L215.41 71.76L209.31 71.76Z"/><path d="M213.81 66.19L216.86 71.39L210.76 71.39Z"/></g>
<g fill="none" stroke="#68a84a" stroke-width="1.0" stroke-linejoin="miter"><path d="M64.00 244.18L67.05 249.38L60.95 249.38Z"/><path d="M65.45 241.48L68.50 246.68L62.40 246.68Z"/><path d="M66.91 237.59L69.96 242.79L63.86 242.79Z"/><path d="M68.36 231.07L71.41 236.27L65.31 236.27Z"/><path d="M69.82 222.17L72.87 227.37L66.77 227.37Z"/><path d="M71.27 213.45L74.32 218.65L68.22 218.65Z"/><path d="M72.73 205.33L75.78 210.53L69.68 210.53Z"/><path d="M74.18 197.73L77.23 202.93L71.13 202.93Z"/><path d="M75.64 191.22L78.69 196.42L72.59 196.42Z"/><path d="M77.09 185.00L80.14 190.20L74.04 190.20Z"/><path d="M78.55 179.22L81.60 184.42L75.50 184.42Z"/><path d="M80.00 174.38L83.05 179.58L76.95 179.58Z"/><path d="M81.45 170.04L84.50 175.24L78.40 175.24Z"/><path d="M82.91 163.79L85.96 168.99L79.86 168.99Z"/><path d="M84.36 158.21L87.41 163.41L81.31 163.41Z"/><path d="M85.82 154.36L88.87 159.56L82.77 159.56Z"/><path d="M87.27 151.03L90.32 156.23L84.22 156.23Z"/><path d="M88.73 147.66L91.78 152.86L85.68 152.86Z"/><path d="M90.18 144.37L93.23 149.57L87.13 149.57Z"/><path d="M91.64 141.20L94.69 146.40L88.59 146.40Z"/><path d="M93.09 138.17L96.14 143.37L90.04 143.37Z"/><path d="M94.54 135.25L97.59 140.45L91.49 140.45Z"/><path d="M96.00 132.74L99.05 137.94L92.95 137.94Z"/><path d="M97.45 129.38L100.50 134.58L94.40 134.58Z"/><path d="M98.91 127.35L101.96 132.55L95.86 132.55Z"/><path d="M100.36 124.78L103.41 129.98L97.31 129.98Z"/><path d="M101.82 122.10L104.87 127.30L98.77 127.30Z"/><path d="M103.27 120.11L106.32 125.31L100.22 125.31Z"/><path d="M104.73 117.89L107.78 123.09L101.68 123.09Z"/><path d="M106.18 115.62L109.23 120.82L103.13 120.82Z"/><path d="M107.64 113.58L110.69 118.78L104.59 118.78Z"/><path d="M109.09 112.00L112.14 117.20L106.04 117.20Z"/><path d="M110.54 109.62L113.59 114.82L107.49 114.82Z"/><path d="M112.00 108.02L115.05 113.22L108.95 113.22Z"/><path d="M113.45 106.66L116.50 111.86L110.40 111.86Z"/><path d="M114.91 104.29L117.96 109.49L111.86 109.49Z"/><path d="M116.36 103.25L119.41 108.45L113.31 108.45Z"/><path d="M117.82 101.73L120.87 106.93L114.77 106.93Z"/><path d="M119.27 99.86L122.32 105.06L116.22 105.06Z"/><path d="M120.73 98.76L123.78 103.96L117.68 103.96Z"/><path d="M122.18 97.05L125.23 102.25L119.13 102.25Z"/><path d="M123.64 95.34L126.69 100.54L120.59 100.54Z"/><path d="M125.09 93.93L128.14 99.13L122.04 99.13Z"/><path d="M126.54 92.74L129.59 97.94L123.49 97.94Z"/><path d="M128.00 90.99L131.05 96.19L124.95 96.19Z"/><path d="M129.45 89.78L132.50 94.98L126.40 94.98Z"/><path d="M130.91 88.90L133.96 94.10L127.86 94.10Z"/><path d="M132.36 86.98L135.41 92.18L129.31 92.18Z"/><path d="M133.82 86.31L136.87 91.51L130.77 91.51Z"/><path d="M135.27 85.24L138.32 90.44L132.22 90.44Z"/><path d="M136.73 83.63L139.78 88.83L133.68 88.83Z"/><path d="M138.18 83.14L141.23 88.34L135.13 88.34Z"/><path d="M139.63 81.95L142.68 87.15L136.58 87.15Z"/><path d="M141.09 80.84L144.14 86.04L138.04 86.04Z"/><path d="M142.54 80.10L145.59 85.30L139.49 85.30Z"/><path d="M144.00 79.31L147.05 84.51L140.95 84.51Z"/><path d="M145.45 78.22L148.50 83.42L142.40 83.42Z"/><path d="M146.91 77.48L149.96 82.68L143.86 82.68Z"/><path d="M148.36 77.09L151.41 82.29L145.31 82.29Z"/><path d="M149.82 75.73L152.87 80.93L146.77 80.93Z"/><path d="M151.27 75.45L154.32 80.65L148.22 80.65Z"/><path d="M152.73 74.94L155.78 80.14L149.68 80.14Z"/><path d="M154.18 73.69L157.23 78.89L151.13 78.89Z"/><path d="M155.63 73.71L158.68 78.91L152.58 78.91Z"/><path d="M157.09 72.92L160.14 78.12L154.04 78.12Z"/><path d="M158.54 72.14L161.59 77.34L155.49 77.34Z"/><path d="M160.00 71.96L163.05 77.16L156.95 77.16Z"/><path d="M161.45 71.53L164.50 76.73L158.40 76.73Z"/><path d="M162.91 71.05L165.96 76.25L159.86 76.25Z"/><path d="M164.36 70.80L167.41 76.00L161.31 76.00Z"/><path d="M165.82 70.80L168.87 76.00L162.77 76.00Z"/><path d="M167.27 69.98L170.32 75.18L164.22 75.18Z"/><path d="M168.72 70.03L171.78 75.23L165.67 75.23Z"/><path d="M170.18 69.99L173.23 75.19L167.13 75.19Z"/><path d="M171.63 69.08L174.68 74.28L168.58 74.28Z"/><path d="M173.09 69.48L176.14 74.68L170.04 74.68Z"/><path d="M174.54 69.08L177.59 74.28L171.49 74.28Z"/><path d="M176.00 68.55L179.05 73.75L172.95 73.75Z"/><path d="M177.45 68.78L180.50 73.98L174.40 73.98Z"/><path d="M178.91 68.41L181.96 73.61L175.86 73.61Z"/><path d="M180.36 68.12L183.41 73.32L177.31 73.32Z"/><path d="M181.82 68.03L184.87 73.23L178.77 73.23Z"/><path d="M183.27 68.06L186.32 73.26L180.22 73.26Z"/><path d="M184.72 67.49L187.77 72.69L181.67 72.69Z"/><path d="M186.18 67.57L189.23 72.77L183.13 72.77Z"/><path d="M187.63 67.69L190.68 72.89L184.58 72.89Z"/><path d="M189.09 66.88L192.14 72.08L186.04 72.08Z"/><path d="M190.54 67.35L193.59 72.55L187.49 72.55Z"/><path d="M192.00 67.13L195.05 72.33L188.95 72.33Z"/><path d="M193.45 66.58L196.50 71.78L190.40 71.78Z"/><path d="M194.91 67.03L197.96 72.23L191.86 72.23Z"/><path d="M196.36 66.65L199.41 71.85L193.31 71.85Z"/><path d="M197.82 66.45L200.87 71.65L194.77 71.65Z"/><path d="M199.27 66.53L202.32 71.73L196.22 71.73Z"/><path d="M200.72 66.49L203.77 71.69L197.67 71.69Z"/><path d="M202.18 66.13L205.23 71.33L199.13 71.33Z"/><path d="M203.63 66.19L206.68 71.39L200.58 71.39Z"/><path d="M205.09 66.39L208.14 71.59L202.04 71.59Z"/><path d="M206.54 65.68L209.59 70.88L203.49 70.88Z"/><path d="M208.00 66.14L211.05 71.34L204.95 71.34Z"/><path d="M209.45 66.06L212.50 71.26L206.40 71.26Z"/><path d="M210.91 65.47L213.96 70.67L207.86 70.67Z"/><path d="M212.36 66.05L215.41 71.25L209.31 71.25Z"/><path d="M213.81 65.68L216.86 70.88L210.76 70.88Z"/><path d="M215.27 65.48L218.32 70.68L212.22 70.68Z"/><path d="M216.72 65.72L219.77 70.92L213.67 70.92Z"/><path d="M218.18 65.58L221.23 70.78L215.13 70.78Z"/><path d="M219.63 65.37L222.68 70.57L216.58 70.57Z"/><path d="M221.09 65.43L224.14 70.63L218.04 70.63Z"/><path d="M222.54 65.62L225.59 70.82L219.49 70.82Z"/><path d="M224.00 65.04L227.05 70.24L220.95 70.24Z"/><path d="M225.45 65.43L228.50 70.63L222.40 70.63Z"/><path d="M226.91 65.47L229.96 70.67L223.86 70.67Z"/><path d="M228.36 64.84L231.41 70.04L225.31 70.04Z"/><path d="M229.81 65.49L232.86 70.69L226.76 70.69Z"/><path d="M231.27 65.16L234.32 70.36L228.22 70.36Z"/><path d="M232.72 64.91L235.77 70.11L229.67 70.11Z"/><path d="M234.18 65.31L237.23 70.51L231.13 70.51Z"/><path d="M235.63 65.05L238.68 70.25L232.58 70.25Z"/><path d="M237.09 64.94L240.14 70.14L234.04 70.14Z"/><path d="M238.54 65.03L241.59 70.23L235.49 70.23Z"/><path d="M240.00 65.16L243.05 70.36L236.95 70.36Z"/><path d="M241.45 64.84L244.50 70.04L238.40 70.04Z"/><path d="M242.91 65.40L245.96 70.60L239.86 70.60Z"/><path d="M244.36 65.89L247.41 71.09L241.31 71.09Z"/><path d="M245.81 65.67L248.86 70.87L242.76 70.87Z"/><path d="M247.27 66.77L250.32 71.97L244.22 71.97Z"/><path d="M248.72 66.91L251.77 72.11L245.67 72.11Z"/><path d="M250.18 66.92L253.23 72.12L247.13 72.12Z"/><path d="M251.63 67.66L254.68 72.86L248.58 72.86Z"/><path d="M253.09 67.45L256.14 72.65L250.04 72.65Z"/><path d="M254.54 67.51L257.59 72.71L251.49 72.71Z"/><path d="M256.00 67.77L259.05 72.97L252.95 72.97Z"/><path d="M257.45 67.86L260.50 73.06L254.40 73.06Z"/><path d="M258.90 67.66L261.95 72.86L255.85 72.86Z"/><path d="M260.36 67.96L263.41 73.16L257.31 73.16Z"/><path d="M261.81 68.22L264.86 73.42L258.76 73.42Z"/><path d="M263.27 67.73L266.32 72.93L260.22 72.93Z"/><path d="M264.72 68.46L267.77 73.66L261.67 73.66Z"/><path d="M266.18 68.41L269.23 73.61L263.13 73.61Z"/><path d="M267.63 68.12L270.68 73.32L264.58 73.32Z"/><path d="M269.09 68.90L272.14 74.10L266.04 74.10Z"/><path d="M270.54 68.64L273.59 73.84L267.49 73.84Z"/><path d="M272.00 68.75L275.05 73.95L268.95 73.95Z"/><path d="M273.45 69.18L276.50 74.38L270.40 74.38Z"/><path d="M274.90 69.23L277.95 74.43L271.85 74.43Z"/><path d="M276.36 69.29L279.41 74.49L273.31 74.49Z"/><path d="M277.81 69.67L280.86 74.87L274.76 74.87Z"/><path d="M279.27 70.07L282.32 75.27L276.22 75.27Z"/><path d="M280.72 69.81L283.77 75.01L277.67 75.01Z"/><path d="M282.18 70.60L285.23 75.80L279.13 75.80Z"/><path d="M283.63 70.80L286.68 76.00L280.58 76.00Z"/><path d="M285.09 70.60L288.14 75.80L282.04 75.80Z"/><path d="M286.54 71.58L289.59 76.78L283.49 76.78Z"/><path d="M288.00 71.45L291.05 76.65L284.95 76.65Z"/><path d="M289.45 71.63L292.50 76.83L286.40 76.83Z"/><path d="M290.90 72.30L293.95 77.50L287.85 77.50Z"/><path d="M292.36 72.32L295.41 77.52L289.31 77.52Z"/><path d="M293.81 72.59L296.86 77.79L290.76 77.79Z"/><path d="M295.27 73.06L298.32 78.26L292.22 78.26Z"/><path d="M296.72 73.50L299.77 78.70L293.67 78.70Z"/><path d="M298.18 73.48L301.23 78.68L295.13 78.68Z"/><path d="M299.63 74.31L302.68 79.51L296.58 79.51Z"/><path d="M301.09 74.80L304.14 80.00L298.04 80.00Z"/><path d="M302.54 74.85L305.59 80.05L299.49 80.05Z"/><path d="M303.99 76.23L307.04 81.43L300.94 81.43Z"/><path d="M305.45 76.57L308.50 81.77L302.40 81.77Z"/><path d="M306.90 77.15L309.95 82.35L303.85 82.35Z"/><path d="M308.36 78.43L311.41 83.63L305.31 83.63Z"/><path d="M309.81 78.85L312.86 84.05L306.76 84.05Z"/><path d="M311.27 79.74L314.32 84.94L308.22 84.94Z"/><path d="M312.72 80.82L315.77 86.02L309.67 86.02Z"/><path d="M314.18 81.77L317.23 86.97L311.13 86.97Z"/><path d="M315.63 82.52L318.68 87.72L312.58 87.72Z"/><path d="M317.09 83.89L320.14 89.09L314.04 89.09Z"/><path d="M318.54 85.09L321.59 90.29L315.49 90.29Z"/><path d="M319.99 85.78L323.04 90.98L316.94 90.98Z"/><path d="M321.45 87.74L324.50 92.94L318.40 92.94Z"/><path d="M322.90 88.79L325.95 93.99L319.85 93.99Z"/><path d="M324.36 89.96L327.41 95.16L321.31 95.16Z"/><path d="M325.81 92.13L328.86 97.33L322.76 97.33Z"/><path d="M327.27 93.31L330.32 98.51L324.22 98.51Z"/><path d="M328.72 95.12L331.77 100.32L325.67 100.32Z"/><path d="M330.18 97.20L333.23 102.40L327.13 102.40Z"/><path d="M331.63 98.95L334.68 104.15L328.58 104.15Z"/><path d="M333.09 100.82L336.14 106.02L330.04 106.02Z"/><path d="M334.54 103.16L337.59 108.36L331.49 108.36Z"/><path d="M335.99 105.44L339.04 110.64L332.94 110.64Z"/><path d="M337.45 107.22L340.50 112.42L334.40 112.42Z"/><path d="M338.90 110.04L341.95 115.24L335.85 115.24Z"/><path d="M340.36 112.01L343.41 117.21L337.31 117.21Z"/><path d="M341.81 113.84L344.86 119.04L338.76 119.04Z"/><path d="M343.27 116.74L346.32 121.94L340.22 121.94Z"/><path d="M344.72 118.42L347.77 123.62L341.67 123.62Z"/><path d="M346.18 120.63L349.23 125.83L343.13 125.83Z"/><path d="M347.63 123.13L350.68 128.33L344.58 128.33Z"/><path d="M349.08 124.97L352.13 130.17L346.03 130.17Z"/><path d="M350.54 127.09L353.59 132.29L347.49 132.29Z"/><path d="M351.99 129.35L355.04 134.55L348.94 134.55Z"/><path d="M353.45 131.49L356.50 136.69L350.40 136.69Z"/><path d="M354.90 133.23L357.95 138.43L351.85 138.43Z"/><path d="M356.36 135.95L359.41 141.15L353.31 141.15Z"/><path d="M357.81 138.13L360.86 143.33L354.76 143.33Z"/><path d="M359.27 139.92L362.32 145.12L356.22 145.12Z"/><path d="M360.72 142.56L363.77 147.76L357.67 147.76Z"/><path d="M362.18 143.58L365.23 148.78L359.13 148.78Z"/><path d="M363.63 145.02L366.68 150.22L360.58 150.22Z"/><path d="M365.08 146.80L368.13 152.00L362.03 152.00Z"/><path d="M366.54 147.28L369.59 152.48L363.49 152.48Z"/><path d="M367.99 147.62L371.04 152.82L364.94 152.82Z"/><path d="M369.45 147.48L372.50 152.68L366.40 152.68Z"/><path d="M370.90 146.85L373.95 152.05L367.85 152.05Z"/><path d="M372.36 145.89L375.41 151.09L369.31 151.09Z"/><path d="M373.81 145.53L376.86 150.73L370.76 150.73Z"/><path d="M375.27 144.60L378.32 149.80L372.22 149.80Z"/><path d="M376.72 143.07L379.77 148.27L373.67 148.27Z"/><path d="M378.18 142.79L381.23 147.99L375.12 147.99Z"/><path d="M379.63 141.81L382.68 147.01L376.58 147.01Z"/><path d="M381.08 142.09L384.13 147.29L378.03 147.29Z"/><path d="M382.54 144.28L385.59 149.48L379.49 149.48Z"/><path d="M383.99 145.96L387.04 151.16L380.94 151.16Z"/><path d="M385.80 147.18L388.85 152.38L382.75 152.38Z"/><path d="M387.60 147.68L390.65 152.88L384.55 152.88Z"/><path d="M388.90 141.28L391.95 146.48L385.85 146.48Z"/><path d="M389.50 129.98L392.55 135.18L386.45 135.18Z"/><path d="M391.20 134.08L394.25 139.28L388.15 139.28Z"/><path d="M392.90 134.38L395.95 139.58L389.85 139.58Z"/><path d="M394.40 153.58L397.45 158.78L391.35 158.78Z"/><path d="M395.60 164.88L398.65 170.08L392.55 170.08Z"/><path d="M397.10 169.18L400.15 174.38L394.05 174.38Z"/><path d="M398.70 174.08L401.75 179.28L395.65 179.28Z"/><path d="M400.30 190.18L403.35 195.38L397.25 195.38Z"/><path d="M401.90 196.08L404.95 201.28L398.85 201.28Z"/><path d="M403.80 195.18L406.85 200.38L400.75 200.38Z"/><path d="M405.50 197.88L408.55 203.08L402.45 203.08Z"/><path d="M407.27 200.34L410.32 205.54L404.22 205.54Z"/><path d="M408.72 202.24L411.77 207.44L405.67 207.44Z"/><path d="M410.17 204.23L413.22 209.43L407.12 209.43Z"/><path d="M411.63 206.33L414.68 211.53L408.58 211.53Z"/><path d="M413.08 208.41L416.13 213.61L410.03 213.61Z"/><path d="M414.54 210.36L417.59 215.56L411.49 215.56Z"/><path d="M415.99 211.89L419.04 217.09L412.94 217.09Z"/><path d="M417.45 213.17L420.50 218.37L414.40 218.37Z"/><path d="M418.90 214.10L421.95 219.30L415.85 219.30Z"/><path d="M420.36 214.82L423.41 220.02L417.31 220.02Z"/><path d="M421.81 215.33L424.86 220.53L418.76 220.53Z"/><path d="M423.26 215.68L426.31 220.88L420.21 220.88Z"/><path d="M424.72 215.96L427.77 221.16L421.67 221.16Z"/><path d="M426.17 216.09L429.22 221.29L423.12 221.29Z"/><path d="M427.63 216.14L430.68 221.34L424.58 221.34Z"/><path d="M429.08 216.19L432.13 221.39L426.03 221.39Z"/><path d="M430.54 216.24L433.59 221.44L427.49 221.44Z"/><path d="M431.99 216.28L435.04 221.48L428.94 221.48Z"/><path d="M433.45 216.31L436.50 221.51L430.40 221.51Z"/><path d="M434.90 216.34L437.95 221.54L431.85 221.54Z"/><path d="M436.36 216.37L439.41 221.57L433.31 221.57Z"/><path d="M437.81 216.40L440.86 221.60L434.76 221.60Z"/><path d="M439.26 216.42L442.31 221.62L436.21 221.62Z"/><path d="M440.72 216.44L443.77 221.64L437.67 221.64Z"/><path d="M442.17 216.45L445.22 221.65L439.12 221.65Z"/><path d="M443.63 216.46L446.68 221.66L440.58 221.66Z"/><path d="M445.08 216.47L448.13 221.67L442.03 221.67Z"/><path d="M446.54 216.48L449.59 221.68L443.49 221.68Z"/><path d="M447.99 216.48L451.04 221.68L444.94 221.68Z"/></g>
<text x="14.6" y="313.8" font-size="16" text-anchor="start" textLength="9.6" lengthAdjust="spacingAndGlyphs" >B</text>
<g stroke="#151313" stroke-width="1.35" fill="none"><path d="M64.3 341.30V486.5" stroke-width="1.4"/><path d="M63.599999999999994 486.5H247.2"/><path d="M59.0 486.50H64.3"/><path d="M59.0 466.41H64.3"/><path d="M59.0 446.33H64.3"/><path d="M59.0 426.24H64.3"/><path d="M59.0 406.16H64.3"/><path d="M59.0 386.07H64.3"/><path d="M59.0 365.99H64.3"/><path d="M59.0 345.90H64.3"/><path d="M64.30 486.5V491.5"/><path d="M109.05 486.5V491.5"/><path d="M153.80 486.5V491.5"/><path d="M198.55 486.5V491.5"/><path d="M243.30 486.5V491.5"/></g><rect x="77.67" y="449.94" width="18" height="36.56" fill="#9e2f45" stroke="#8a1c33" stroke-width="0.8"/><path d="M86.50 445.94V453.94M84.00 445.94H89.00M84.00 453.94H89.00" stroke="#1a1718" stroke-width="1.05" fill="none"/><rect x="122.43" y="445.73" width="18" height="40.77" fill="#9e2f45" stroke="#8a1c33" stroke-width="0.8"/><path d="M131.50 441.73V449.23M129.00 441.73H134.00M129.00 449.23H134.00" stroke="#1a1718" stroke-width="1.05" fill="none"/><rect x="167.18" y="434.88" width="18" height="51.62" fill="#9e2f45" stroke="#8a1c33" stroke-width="0.8"/><path d="M176.50 429.88V439.38M174.00 429.88H179.00M174.00 439.38H179.00" stroke="#1a1718" stroke-width="1.05" fill="none"/><text x="176.18" y="423.88" font-size="11" text-anchor="middle" fill="#444">*</text><rect x="211.93" y="372.61" width="18" height="113.89" fill="#9e2f45" stroke="#8a1c33" stroke-width="0.8"/><path d="M220.50 365.61V379.11M218.00 365.61H223.00M218.00 379.11H223.00" stroke="#1a1718" stroke-width="1.05" fill="none"/><text x="220.93" y="359.61" font-size="11" text-anchor="middle" fill="#444">**</text><text x="53.9" y="490.80" font-size="12" text-anchor="end" textLength="5.8" lengthAdjust="spacingAndGlyphs" >0</text><text x="53.9" y="470.71" font-size="12" text-anchor="end" textLength="11.6" lengthAdjust="spacingAndGlyphs" >10</text><text x="53.9" y="450.63" font-size="12" text-anchor="end" textLength="11.6" lengthAdjust="spacingAndGlyphs" >20</text><text x="53.9" y="430.54" font-size="12" text-anchor="end" textLength="11.6" lengthAdjust="spacingAndGlyphs" >30</text><text x="53.9" y="410.46" font-size="12" text-anchor="end" textLength="11.6" lengthAdjust="spacingAndGlyphs" >40</text><text x="53.9" y="390.37" font-size="12" text-anchor="end" textLength="11.6" lengthAdjust="spacingAndGlyphs" >50</text><text x="53.9" y="370.29" font-size="12" text-anchor="end" textLength="11.6" lengthAdjust="spacingAndGlyphs" >60</text><text x="53.9" y="350.20" font-size="12" text-anchor="end" textLength="11.6" lengthAdjust="spacingAndGlyphs" >70</text><text x="86.67" y="506.6" font-size="12" text-anchor="middle" >0</text><text x="131.43" y="506.6" font-size="12" text-anchor="middle" >1</text><text x="176.18" y="506.6" font-size="12" text-anchor="middle" >2.5</text><text x="220.93" y="506.6" font-size="12" text-anchor="middle" >5</text>
<g stroke="#151313" stroke-width="1.35" fill="none"><path d="M327.5 343.70V486.5" stroke-width="1.4"/><path d="M326.8 486.5H501.6"/><path d="M322.2 486.50H327.5"/><path d="M322.2 466.76H327.5"/><path d="M322.2 447.01H327.5"/><path d="M322.2 427.27H327.5"/><path d="M322.2 407.53H327.5"/><path d="M322.2 387.79H327.5"/><path d="M322.2 368.04H327.5"/><path d="M322.2 348.30H327.5"/><path d="M327.50 486.5V491.5"/><path d="M370.07 486.5V491.5"/><path d="M412.65 486.5V491.5"/><path d="M455.23 486.5V491.5"/><path d="M497.80 486.5V491.5"/></g><rect x="340.29" y="417.10" width="17" height="69.40" fill="#9e2f45" stroke="#8a1c33" stroke-width="0.8"/><path d="M348.50 413.10V420.60M346.00 413.10H351.00M346.00 420.60H351.00" stroke="#1a1718" stroke-width="1.05" fill="none"/><rect x="382.86" y="407.92" width="17" height="78.58" fill="#9e2f45" stroke="#8a1c33" stroke-width="0.8"/><path d="M391.50 404.12V411.12M389.00 404.12H394.00M389.00 411.12H394.00" stroke="#1a1718" stroke-width="1.05" fill="none"/><rect x="425.44" y="399.73" width="17" height="86.77" fill="#9e2f45" stroke="#8a1c33" stroke-width="0.8"/><path d="M433.50 395.23V404.03M431.00 395.23H436.00M431.00 404.03H436.00" stroke="#1a1718" stroke-width="1.05" fill="none"/><text x="433.94" y="389.23" font-size="11" text-anchor="middle" fill="#444">**</text><rect x="468.01" y="378.41" width="17" height="108.09" fill="#9e2f45" stroke="#8a1c33" stroke-width="0.8"/><path d="M476.50 371.91V384.61M474.00 371.91H479.00M474.00 384.61H479.00" stroke="#1a1718" stroke-width="1.05" fill="none"/><text x="476.51" y="365.91" font-size="11" text-anchor="middle" fill="#444">**</text><text x="317.1" y="490.80" font-size="12" text-anchor="end" textLength="5.8" lengthAdjust="spacingAndGlyphs" >0</text><text x="317.1" y="471.06" font-size="12" text-anchor="end" textLength="11.6" lengthAdjust="spacingAndGlyphs" >20</text><text x="317.1" y="451.31" font-size="12" text-anchor="end" textLength="11.6" lengthAdjust="spacingAndGlyphs" >40</text><text x="317.1" y="431.57" font-size="12" text-anchor="end" textLength="11.6" lengthAdjust="spacingAndGlyphs" >60</text><text x="317.1" y="411.83" font-size="12" text-anchor="end" textLength="11.6" lengthAdjust="spacingAndGlyphs" >80</text><text x="317.1" y="392.09" font-size="12" text-anchor="end" textLength="17.4" lengthAdjust="spacingAndGlyphs" >100</text><text x="317.1" y="372.34" font-size="12" text-anchor="end" textLength="17.4" lengthAdjust="spacingAndGlyphs" >120</text><text x="317.1" y="352.60" font-size="12" text-anchor="end" textLength="17.4" lengthAdjust="spacingAndGlyphs" >140</text><text x="348.79" y="506.6" font-size="12" text-anchor="middle" >0</text><text x="391.36" y="506.6" font-size="12" text-anchor="middle" >1</text><text x="433.94" y="506.6" font-size="12" text-anchor="middle" >2.5</text><text x="476.51" y="506.6" font-size="12" text-anchor="middle" >5</text>
<text x="156.2" y="525.4" font-size="12.4" text-anchor="middle" textLength="68.4" lengthAdjust="spacingAndGlyphs" >&#945;-Def-1 (&#956;M)</text>
<text x="415.0" y="525.4" font-size="12.4" text-anchor="middle" textLength="69.4" lengthAdjust="spacingAndGlyphs" >&#945;-Def-1 (&#956;M)</text>
<text transform="translate(28.1 415.8) rotate(-90)" font-size="14.6" text-anchor="middle" textLength="207" lengthAdjust="spacingAndGlyphs">Time to 50% lysis, Lys 50<tspan font-size="10" dy="3">MA</tspan><tspan dy="-3"> (min)</tspan></text>
<text transform="translate(265.6 416.4) rotate(-90)" font-size="14.4" text-anchor="middle" textLength="109.2" lengthAdjust="spacingAndGlyphs">Time to 50% lysis</text>
<text transform="translate(283.6 414.5) rotate(-90)" font-size="14.4" text-anchor="middle" textLength="135.8" lengthAdjust="spacingAndGlyphs">from t<tspan font-size="10" dy="3">0</tspan><tspan dy="-3">, Lys 50t</tspan><tspan font-size="10" dy="3">0</tspan><tspan dy="-3"> (min)</tspan></text>
<text x="13.6" y="550.0" font-size="17.5" text-anchor="start" >C</text>
<defs>
<radialGradient id="frame" cx="50%" cy="50%" r="71%">
 <stop offset="0.64" stop-color="#3a3a36"/>
 <stop offset="0.68" stop-color="#62625c"/>
 <stop offset="0.715" stop-color="#9a9a94"/>
 <stop offset="0.745" stop-color="#b6b6b0"/>
 <stop offset="0.775" stop-color="#8c8c86"/>
 <stop offset="0.805" stop-color="#6a6a64"/>
 <stop offset="0.84" stop-color="#9a9a94"/>
 <stop offset="0.875" stop-color="#b2b2ac"/>
 <stop offset="0.91" stop-color="#82827c"/>
 <stop offset="0.945" stop-color="#62625c"/>
 <stop offset="0.975" stop-color="#8a8a84"/>
 <stop offset="1" stop-color="#5a5a54"/>
</radialGradient>
<radialGradient id="well" cx="0.59" cy="0.45" r="0.56">
 <stop offset="0" stop-color="#f0f2f6"/>
 <stop offset="0.3" stop-color="#e5e7eb"/>
 <stop offset="0.5" stop-color="#cbccd0"/>
 <stop offset="0.68" stop-color="#a0a0a0"/>
 <stop offset="0.8" stop-color="#767674"/>
 <stop offset="0.9" stop-color="#4e4e4a"/>
 <stop offset="1" stop-color="#30302c"/>
</radialGradient>
<linearGradient id="m1g" x1="0" y1="0" x2="1" y2="1">
 <stop offset="0" stop-color="#ebe8ea"/><stop offset="1" stop-color="#efecee"/>
</linearGradient>
<filter id="bl1" x="-20%" y="-20%" width="140%" height="140%"><feGaussianBlur stdDeviation="0.8"/></filter>
<filter id="bl2" x="-20%" y="-20%" width="140%" height="140%"><feGaussianBlur stdDeviation="1.5"/></filter>
<filter id="bl05" x="-20%" y="-20%" width="140%" height="140%"><feGaussianBlur stdDeviation="0.45"/></filter>
<filter id="noise" x="0" y="0" width="100%" height="100%"><feTurbulence type="fractalNoise" baseFrequency="0.32" numOctaves="2" seed="7"/><feColorMatrix type="matrix" values="0 0 0 0 0.33, 0 0 0 0 0.32, 0 0 0 0 0.32, 2.0 0 0 0 -0.72"/></filter>
<filter id="bl3" x="-20%" y="-20%" width="140%" height="140%"><feGaussianBlur stdDeviation="3"/></filter>
</defs>
<g transform="translate(11.8 559.8)"><clipPath id="wc1"><circle cx="50.2" cy="50.1" r="46.80"/></clipPath><rect width="100.4" height="100.2" rx="3.5" fill="url(#frame)"/><circle cx="50.2" cy="50.1" r="48.10" fill="none" stroke="#1e1e1b" stroke-width="1.3"/><circle cx="50.2" cy="50.1" r="47.10" fill="none" stroke="#d4d4cc" stroke-width="0.9"/><circle cx="50.2" cy="50.1" r="46.80" fill="url(#well)"/><g clip-path="url(#wc1)"><rect x="0" y="0" width="31.0" height="100.2" fill="#2e2e2a" opacity="0.26"/><rect x="0" y="75.5" width="100.4" height="24.700000000000003" fill="#5e5846" opacity="0.13"/><circle cx="50.2" cy="50.1" r="46.80" fill="none" stroke="#22221e" stroke-width="4" opacity="0.45" filter="url(#bl2)"/><circle cx="73" cy="88" r="0.6" fill="#555"/></g></g>
<g transform="translate(123.0 559.4)"><clipPath id="wc2"><circle cx="49.8" cy="50.0" r="46.50"/></clipPath><rect width="99.6" height="100.0" rx="3.5" fill="url(#frame)"/><circle cx="49.8" cy="50.0" r="47.80" fill="none" stroke="#1e1e1b" stroke-width="1.3"/><circle cx="49.8" cy="50.0" r="46.80" fill="none" stroke="#d4d4cc" stroke-width="0.9"/><circle cx="49.8" cy="50.0" r="46.50" fill="url(#well)"/><g clip-path="url(#wc2)"><rect x="0" y="0" width="30.3" height="100.0" fill="#2e2e2a" opacity="0.26"/><rect x="0" y="76.4" width="99.6" height="23.599999999999994" fill="#5e5846" opacity="0.13"/><circle cx="49.8" cy="50.0" r="46.50" fill="none" stroke="#22221e" stroke-width="4" opacity="0.45" filter="url(#bl2)"/><g fill="#858585" filter="url(#bl05)"><circle cx="57.6" cy="39" r="0.9"/><circle cx="61.6" cy="40.5" r="0.8"/><circle cx="47.5" cy="60.2" r="1"/><circle cx="80.8" cy="75.4" r="0.7"/><circle cx="55" cy="28" r="0.5"/></g><g fill="none" stroke="#8a8a8a" filter="url(#bl05)"><path d="M65.7 53v10" stroke-width="1.6" opacity="0.6"/><path d="M72 78c2 2 3 4 5 7" stroke-width="0.8"/><path d="M57 38l5 3" stroke-width="0.7"/></g></g></g>
<g transform="translate(234.0 559.4)"><clipPath id="wc3"><circle cx="48.5" cy="49.9" r="45.20"/></clipPath><rect width="97.0" height="99.8" rx="3.5" fill="url(#frame)"/><circle cx="48.5" cy="49.9" r="46.50" fill="none" stroke="#1e1e1b" stroke-width="1.3"/><circle cx="48.5" cy="49.9" r="45.50" fill="none" stroke="#d4d4cc" stroke-width="0.9"/><circle cx="48.5" cy="49.9" r="45.20" fill="url(#well)"/><g clip-path="url(#wc3)"><rect x="0" y="0" width="27.0" height="99.8" fill="#2e2e2a" opacity="0.26"/><rect x="0" y="76.4" width="97.0" height="23.39999999999999" fill="#5e5846" opacity="0.13"/><circle cx="48.5" cy="49.9" r="45.20" fill="none" stroke="#22221e" stroke-width="4" opacity="0.45" filter="url(#bl2)"/><g fill="#7a7a78" filter="url(#bl05)"><path d="M38 31.5c1-2 3-3 4-1.5 0.5 2 0 4-1 5-2 0.5-3.5-1-3-3.5z"/><ellipse cx="58.6" cy="22.9" rx="0.9" ry="3" /><circle cx="67.7" cy="11.7" r="0.9"/><ellipse cx="66.7" cy="54.2" rx="0.7" ry="1.8"/><circle cx="22.3" cy="19.8" r="0.7"/><circle cx="18.2" cy="64.3" r="0.7"/><circle cx="10.1" cy="28" r="0.6"/><circle cx="50" cy="46" r="0.5"/><circle cx="64" cy="40" r="0.5"/><circle cx="45" cy="70" r="0.5"/></g><path d="M56.6 72.7c6-7 14-10 22-10 4 0 8-1 10.3 0" fill="none" stroke="#a4a4a4" stroke-width="0.8" opacity="0.8"/><rect x="54.6" y="76.4" width="0.6" height="24" fill="#8a8a84" opacity="0.5"/></g></g>
<g transform="translate(341.0 559.0)"><clipPath id="wc4"><circle cx="48.0" cy="49.2" r="44.70"/></clipPath><rect width="96.0" height="98.4" rx="3.5" fill="url(#frame)"/><circle cx="48.0" cy="49.2" r="46.00" fill="none" stroke="#1e1e1b" stroke-width="1.3"/><circle cx="48.0" cy="49.2" r="45.00" fill="none" stroke="#d4d4cc" stroke-width="0.9"/><circle cx="48.0" cy="49.2" r="44.70" fill="url(#well)"/><g clip-path="url(#wc4)"><rect x="0" y="0" width="28.3" height="98.4" fill="#2e2e2a" opacity="0.26"/><rect x="0" y="78.8" width="96.0" height="19.60000000000001" fill="#5e5846" opacity="0.13"/><circle cx="48.0" cy="49.2" r="44.70" fill="none" stroke="#22221e" stroke-width="4" opacity="0.45" filter="url(#bl2)"/><g fill="none" stroke="#9c978f" stroke-linecap="round" stroke-linejoin="round" opacity="0.7" filter="url(#bl1)"><path d="M44.5 11C45.5 16 46.3 22 47 28 47.5 32.4 46.5 37 47 40 47.5 42 48.5 44.5" stroke-width="4.9"/><path d="M48.5 44.5C52 43 55 41.5 57.6 41.5 60 42 62 43.5 64 45 66.5 46.5 68.5 47.5 70 48.8 71.5 50 72.8 51.6" stroke-width="5.6"/><path d="M48.5 44.5C46 47 45 49 43.5 50.5 41 50 39 49.5 37.4 49.5 34 50.5 32 51.5 31.3 52.6 30 54 29.3 56.6 30.3 62.7" stroke-width="5.2"/><path d="M43.5 50.5C43.7 53 44 56 45.5 60.6 48 62 50 62.5 51.5 62.7 54 60.5 56 58.5 57.6 56.6 57 54 56.3 52 55.6 50.5 53 48 50.5 46 48.5 44.5" stroke-width="5.3"/><path d="M51.5 62.7C52.5 64 53.2 65 53.6 66.7 54.5 69 55 71 55.6 72.8 56.5 75 57 76 57.6 77.5" stroke-width="4.6"/><path d="M57.6 56.6C59 55 61 54 63.7 56.6" stroke-width="4.6"/><path d="M55.6 50.5C58 49.5 60 48.5 62 47.5" stroke-width="4.8"/><path d="M31.3 52.6C29 51 27.5 50.5 26 51 M29.3 56.6C27.5 58 26.5 59 26 61" stroke-width="4.5"/><path d="M47 28C49 30 51 33 52 36 M47.5 32.4C45 33 43.5 34 42 36" stroke-width="4.3"/></g><g fill="none" stroke="#4a4540" stroke-linecap="round" stroke-linejoin="round" filter="url(#bl05)"><path d="M44.5 11C45.5 16 46.3 22 47 28 47.5 32.4 46.5 37 47 40 47.5 42 48.5 44.5" stroke-width="1.3"/><path d="M48.5 44.5C52 43 55 41.5 57.6 41.5 60 42 62 43.5 64 45 66.5 46.5 68.5 47.5 70 48.8 71.5 50 72.8 51.6" stroke-width="2.0"/><path d="M48.5 44.5C46 47 45 49 43.5 50.5 41 50 39 49.5 37.4 49.5 34 50.5 32 51.5 31.3 52.6 30 54 29.3 56.6 30.3 62.7" stroke-width="1.6"/><path d="M43.5 50.5C43.7 53 44 56 45.5 60.6 48 62 50 62.5 51.5 62.7 54 60.5 56 58.5 57.6 56.6 57 54 56.3 52 55.6 50.5 53 48 50.5 46 48.5 44.5" stroke-width="1.7"/><path d="M51.5 62.7C52.5 64 53.2 65 53.6 66.7 54.5 69 55 71 55.6 72.8 56.5 75 57 76 57.6 77.5" stroke-width="1.0"/><path d="M57.6 56.6C59 55 61 54 63.7 56.6" stroke-width="1.0"/><path d="M55.6 50.5C58 49.5 60 48.5 62 47.5" stroke-width="1.2"/><path d="M31.3 52.6C29 51 27.5 50.5 26 51 M29.3 56.6C27.5 58 26.5 59 26 61" stroke-width="0.9"/><path d="M47 28C49 30 51 33 52 36 M47.5 32.4C45 33 43.5 34 42 36" stroke-width="0.7"/></g><g fill="#46413c" filter="url(#bl05)"><ellipse cx="61" cy="45.3" rx="4.2" ry="2.4" transform="rotate(28 61 45.3)"/><ellipse cx="45.6" cy="56.6" rx="2.2" ry="3.2"/><ellipse cx="47.5" cy="44" rx="1.8" ry="1.6"/><circle cx="78.8" cy="58.6" r="1.2"/><ellipse cx="31" cy="54" rx="1.5" ry="2"/></g><g fill="none" stroke="#a09c98" stroke-width="0.7" opacity="0.8"><path d="M65.7 22.3c2-1 4 0 6 2 1.5 2 2 4 2.1 6"/><path d="M36 58c4 4 8 8 12 10"/><path d="M60 60c3 2 6 3 9 3"/><path d="M40 40c-2-3-3-6-3-9"/></g><g fill="#6a6662"><circle cx="76" cy="42" r="0.6"/><circle cx="80" cy="30" r="0.5"/><circle cx="25" cy="40" r="0.5"/><circle cx="70" cy="62" r="0.6"/></g></g></g>
<text x="442.4" y="606.1" font-size="12.2" text-anchor="start" textLength="54.9" lengthAdjust="spacingAndGlyphs" >4X-macro-</text>
<text x="442.4" y="621.3" font-size="12.2" text-anchor="start" textLength="28.2" lengthAdjust="spacingAndGlyphs" >stitch</text>
<g transform="translate(15.0 685.2)"><clipPath id="mc1"><rect width="95.0" height="74.4"/></clipPath><g clip-path="url(#mc1)"><rect width="95.0" height="74.4" fill="url(#m1g)"/></g></g>
<g transform="translate(125.5 685.6)"><clipPath id="mc2"><rect width="94.5" height="74.2"/></clipPath><g clip-path="url(#mc2)"><rect width="94.5" height="74.2" fill="#eeeced"/><circle cx="36" cy="9.7" r="6" fill="none" stroke="#e2e0e0" stroke-width="2.5" filter="url(#bl1)"/><g fill="#5e5e5e" filter="url(#bl05)"><circle cx="38.1" cy="37.3" r="0.9"/><circle cx="49.9" cy="45.8" r="1.3"/><circle cx="52.9" cy="37.5" r="1.1"/><circle cx="60.5" cy="26.8" r="0.7"/><circle cx="67.8" cy="48" r="0.6"/></g><path d="M52.9 37.5c3 0 5 1 7 2.5 3 2 5.5 5 7.9 8" fill="none" stroke="#a4a4a4" stroke-width="0.9" filter="url(#bl05)"/><path d="M49.9 45.8l3-8.3M52.9 37.5l2-3" fill="none" stroke="#9a9a9a" stroke-width="0.7"/></g></g>
<g transform="translate(230.8 685.9)"><clipPath id="mc3"><rect width="94.3" height="74.0"/></clipPath><g clip-path="url(#mc3)"><rect width="94.3" height="74.0" fill="#edebeb"/><linearGradient id="m3g" x1="0" y1="1" x2="1" y2="0"><stop offset="0" stop-color="#e8e6e6"/><stop offset="1" stop-color="#f0eeee"/></linearGradient><rect width="95" height="75" fill="url(#m3g)"/><mask id="mk3"><path d="M35.7 43.3C39 38 43 34 49 30L53 27.5 56.5 16.5 62.6 15 65.5 20 60.7 28C59 32 58.5 36 57.5 41 59 47 61 53 62.6 58.6 57 56 51 54 47.2 53 43 51 39 47.5 35.7 43.3Z" fill="#fff" filter="url(#bl05)"/></mask><path d="M35.7 43.3C39 38 43 34 49 30L53 27.5 56.5 16.5 62.6 15 65.5 20 60.7 28C59 32 58.5 36 57.5 41 59 47 61 53 62.6 58.6 57 56 51 54 47.2 53 43 51 39 47.5 35.7 43.3Z" fill="#c6c4c4" filter="url(#bl05)"/><rect width="95" height="75" fill="#3a3838" filter="url(#noise)" mask="url(#mk3)"/><path d="M35.7 43.3C39 38 43 34 49 30L53 27.5 56.5 16.5 62.6 15 65.5 20 60.7 28C59 32 58.5 36 57.5 41 59 47 61 53 62.6 58.6 57 56 51 54 47.2 53 43 51 39 47.5 35.7 43.3Z" fill="none" stroke="#8e8c8c" stroke-width="0.8" filter="url(#bl05)"/><ellipse cx="46" cy="42" rx="6" ry="6.5" fill="#7a7878" opacity="0.55" filter="url(#bl1)"/><path d="M55 30l3-10" stroke="#8a8888" stroke-width="1.5" opacity="0.6" filter="url(#bl05)"/><g fill="#9a9898"><circle cx="64" cy="37" r="0.8"/><circle cx="27" cy="42" r="0.5"/><circle cx="74" cy="44" r="0.5"/></g></g></g>
<g transform="translate(341.3 686.0)"><clipPath id="mc4"><rect width="94.7" height="74.0"/></clipPath><g clip-path="url(#mc4)"><rect width="94.7" height="74.0" fill="#e6e4e4"/><rect width="95" height="74" fill="#e9e8e8"/><mask id="nm4"><g fill="none" stroke="#fff" stroke-linecap="round" stroke-linejoin="round" filter="url(#bl1)"><path d="M21 -1C23 6 26 13 29.5 21" stroke-width="7.5"/><path d="M29.5 21C27 27 23 32 18 38" stroke-width="4"/><path d="M26.5 38C24 46 21 55 18 74" stroke-width="9"/><path d="M8 60C12 64 16 68 20 76" stroke-width="12"/><path d="M-2 42C3 41.5 6 42 9.3 42.7" stroke-width="7"/><path d="M9.3 42.7C15 43.5 21 44.5 27.5 45.5 M9.3 42.7C12 39 15 36 17.9 34" stroke-width="1.2"/><path d="M29.5 21C33 23 36 25 39 26 43 27 45 28 47 28.5" stroke-width="2"/><path d="M48 -1C48.5 8 49 16 48.5 24 48 28 47.5 31 47 34" stroke-width="5"/><path d="M46.7 3.8C53 6 60 10 65.9 13.4 72 17 79 22 85.2 25.9 90 28.5 93 30 97 31" stroke-width="12"/><path d="M65.9 24C74 28 82 32 90 36 93 37.5 95 38.5 97 39" stroke-width="11"/><path d="M75 34C82 36 88 38 97 40" stroke-width="10"/><path d="M29 42C33 44 37 46 42 47 44 47 45.5 46 46.7 45.5" stroke-width="9"/><path d="M46.7 45.5C52 50 58 55 65.9 60 74 65 84 70 97 75" stroke-width="11"/><path d="M56.3 34C59 39 62 44 65.9 48.4" stroke-width="6"/><path d="M37.2 51.3C41 54 45 57 48.7 59" stroke-width="1.2"/><path d="M30.4 8.6C33 6 36 4 39 2 M13 13C11 8 11 5 11 2 M2.5 18C5 22 7 26 8 30" stroke-width="0.9"/><path d="M66 44C70 42 73 40 76 38" stroke-width="5"/></g></mask><g fill="none" stroke="#b4b2b2" stroke-linecap="round" stroke-linejoin="round" filter="url(#bl1)"><path d="M21 -1C23 6 26 13 29.5 21" stroke-width="7.5"/><path d="M29.5 21C27 27 23 32 18 38" stroke-width="4"/><path d="M26.5 38C24 46 21 55 18 74" stroke-width="9"/><path d="M8 60C12 64 16 68 20 76" stroke-width="12"/><path d="M-2 42C3 41.5 6 42 9.3 42.7" stroke-width="7"/><path d="M9.3 42.7C15 43.5 21 44.5 27.5 45.5 M9.3 42.7C12 39 15 36 17.9 34" stroke-width="1.2"/><path d="M29.5 21C33 23 36 25 39 26 43 27 45 28 47 28.5" stroke-width="2"/><path d="M48 -1C48.5 8 49 16 48.5 24 48 28 47.5 31 47 34" stroke-width="5"/><path d="M46.7 3.8C53 6 60 10 65.9 13.4 72 17 79 22 85.2 25.9 90 28.5 93 30 97 31" stroke-width="12"/><path d="M65.9 24C74 28 82 32 90 36 93 37.5 95 38.5 97 39" stroke-width="11"/><path d="M75 34C82 36 88 38 97 40" stroke-width="10"/><path d="M29 42C33 44 37 46 42 47 44 47 45.5 46 46.7 45.5" stroke-width="9"/><path d="M46.7 45.5C52 50 58 55 65.9 60 74 65 84 70 97 75" stroke-width="11"/><path d="M56.3 34C59 39 62 44 65.9 48.4" stroke-width="6"/><path d="M37.2 51.3C41 54 45 57 48.7 59" stroke-width="1.2"/><path d="M30.4 8.6C33 6 36 4 39 2 M13 13C11 8 11 5 11 2 M2.5 18C5 22 7 26 8 30" stroke-width="0.9"/><path d="M66 44C70 42 73 40 76 38" stroke-width="5"/></g><rect width="95" height="74" fill="#4a4848" filter="url(#noise)" mask="url(#nm4)"/><g fill="#7a7878" filter="url(#bl2)" opacity="0.8"><path d="M21 -1L29 -1 31 20 27 24z"/><path d="M-1 38L9 41 0 48z"/><ellipse cx="16" cy="66" rx="6" ry="6"/><ellipse cx="85" cy="36" rx="9" ry="5"/><ellipse cx="72" cy="22" rx="6" ry="4"/></g><g fill="#ecebeb" filter="url(#bl1)"><ellipse cx="36" cy="14" rx="5" ry="5.5"/><ellipse cx="58.5" cy="20.5" rx="6" ry="6"/><ellipse cx="62.5" cy="41" rx="6.5" ry="4.5"/><ellipse cx="81" cy="54" rx="11" ry="9"/><ellipse cx="17" cy="51" rx="5.5" ry="6.5"/><ellipse cx="36" cy="61" rx="9" ry="10"/><ellipse cx="9" cy="20" rx="7" ry="14"/><ellipse cx="82" cy="8" rx="12" ry="6"/></g></g></g>
<text x="447.7" y="726.9" font-size="12.3" text-anchor="middle" textLength="13.8" lengthAdjust="spacingAndGlyphs" >4X</text>
<text x="62.2" y="776.4" font-size="11.6" text-anchor="middle" textLength="57.3" lengthAdjust="spacingAndGlyphs" >&#945;-Def-1: (-)</text>
<text x="172.1" y="776.4" font-size="11.6" text-anchor="middle" textLength="76.7" lengthAdjust="spacingAndGlyphs" >&#945;-Def-1 : 1 &#956;M</text>
<text x="278.0" y="776.4" font-size="11.6" text-anchor="middle" textLength="85.0" lengthAdjust="spacingAndGlyphs" >&#945;-Def-1 : 2.5 &#956;M</text>
<text x="388.4" y="776.4" font-size="11.6" text-anchor="middle" textLength="76.8" lengthAdjust="spacingAndGlyphs" >&#945;-Def-1 : 5 &#956;M</text>
<g fill="none">
<path d="M0 1H520" stroke="#23241e" stroke-width="2"/>
<path d="M1 0V790" stroke="#23241e" stroke-width="2"/>
<path d="M518.5 0V790" stroke="#2a2b25" stroke-width="1"/>
<path d="M519.5 0V790" stroke="#9a9c94" stroke-width="1"/>
<path d="M0 788.5H520" stroke="#2a2b25" stroke-width="1"/>
<path d="M0 789.5H520" stroke="#9a9c94" stroke-width="1"/>
</g>
</svg></body></html>
